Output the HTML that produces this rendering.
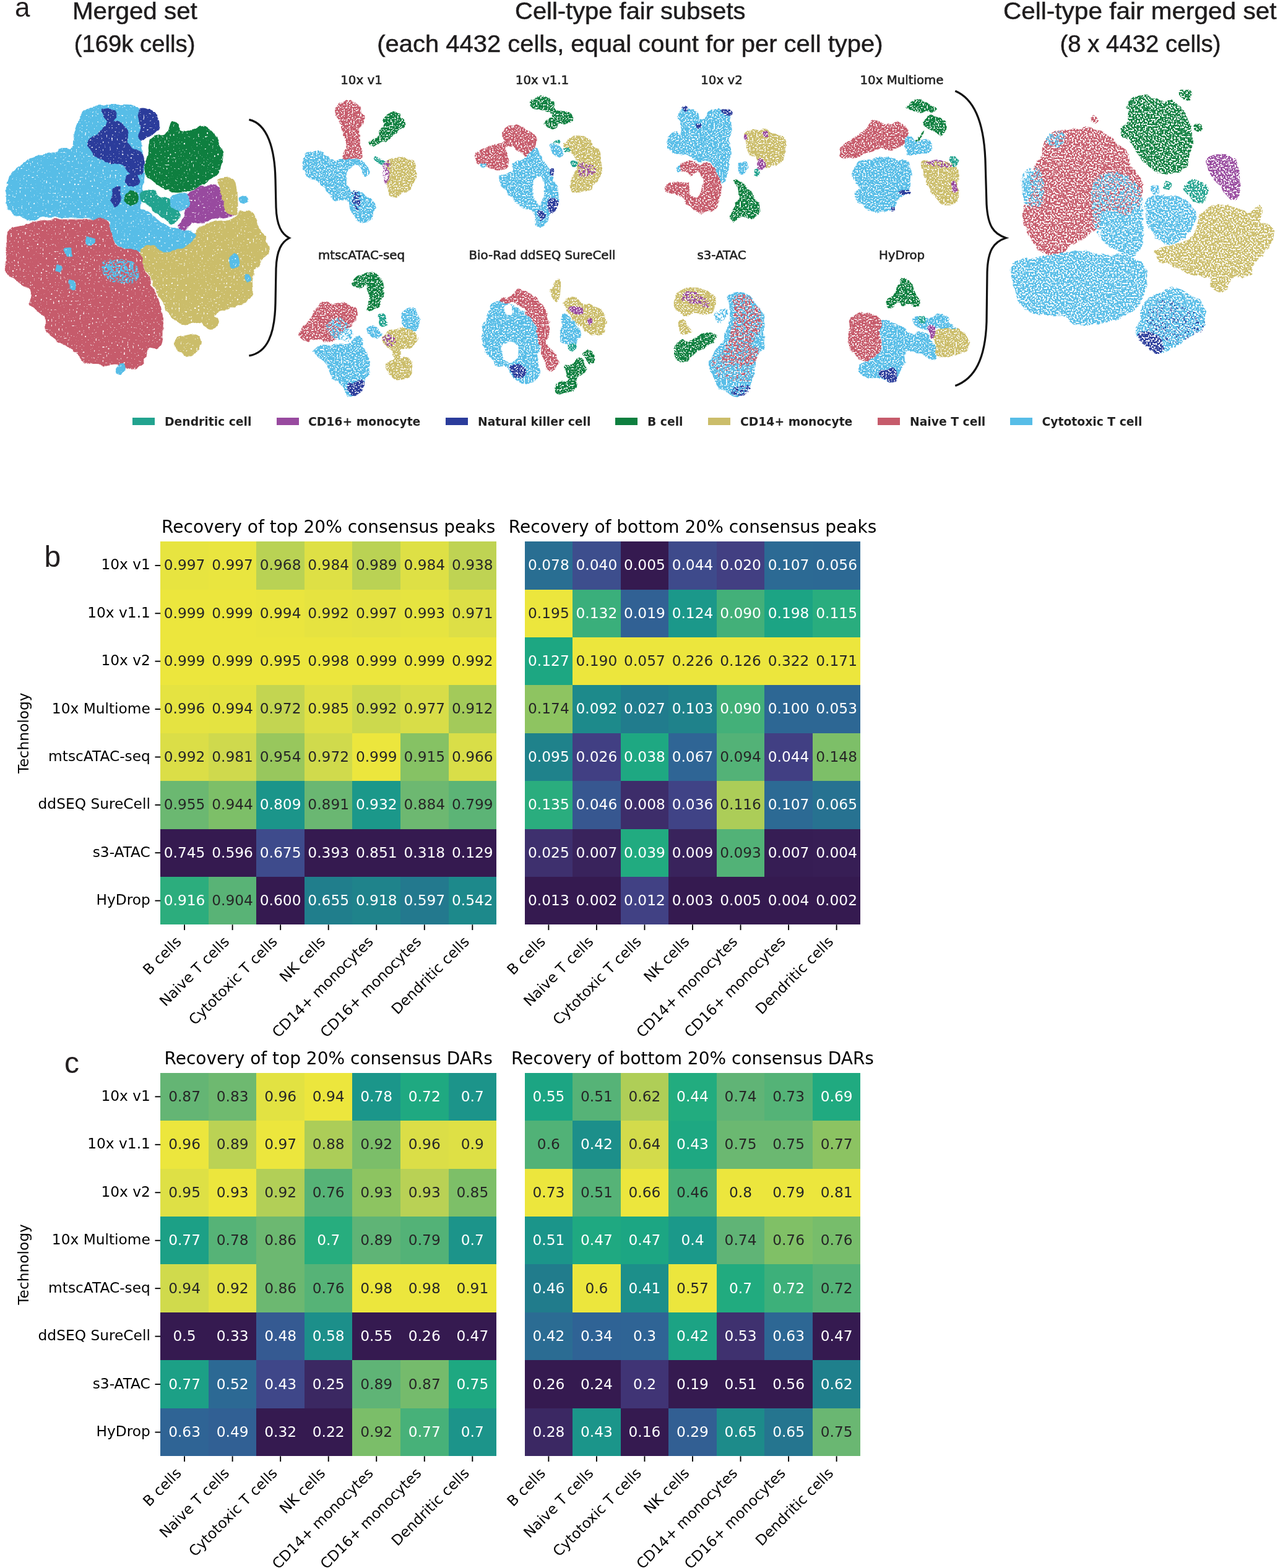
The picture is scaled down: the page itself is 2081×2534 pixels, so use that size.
<!DOCTYPE html>
<html><head><meta charset="utf-8"><style>
html,body{margin:0;padding:0;background:#fff;}
body{width:2081px;height:2534px;overflow:hidden;}
svg{position:absolute;left:0;top:0;} rect{shape-rendering:crispEdges;}
.an{font-family:"DejaVu Sans",sans-serif;font-size:23.3px;text-anchor:middle;}
.xl,.yl{font-family:"DejaVu Sans",sans-serif;font-size:23.3px;text-anchor:end;fill:#000;}
.ax{font-family:"DejaVu Sans",sans-serif;font-size:23.3px;text-anchor:middle;fill:#000;}
.ti{font-family:"DejaVu Sans",sans-serif;font-size:28px;text-anchor:middle;fill:#000;}
.tk{stroke:#000;stroke-width:1.9;}
.pl{font-family:"Liberation Sans",sans-serif;font-size:48px;fill:#231f20;}
.h1{font-family:"Liberation Sans",sans-serif;font-size:39px;fill:#1e1c1d;stroke:#1e1c1d;stroke-width:0.5px;}
.st{font-family:"DejaVu Sans",sans-serif;font-size:19.8px;text-anchor:middle;fill:#222;stroke:#222;stroke-width:0.6px;}
.lg{font-family:"DejaVu Sans",sans-serif;font-weight:bold;font-size:18.75px;fill:#222;}
</style></head><body>
<svg width="2081" height="2534" viewBox="0 0 2081 2534">
<defs>
<filter id="rough" x="-5%" y="-5%" width="110%" height="110%" color-interpolation-filters="sRGB">
<feTurbulence type="fractalNoise" baseFrequency="0.09" numOctaves="2" seed="3" result="n"/>
<feDisplacementMap in="SourceGraphic" in2="n" scale="7" xChannelSelector="R" yChannelSelector="G" result="d"/>
<feTurbulence type="fractalNoise" baseFrequency="0.45" numOctaves="1" seed="11" result="h"/>
<feColorMatrix in="h" type="matrix" values="0 0 0 0 0  0 0 0 0 0  0 0 0 0 0  9 0 0 0 -3.2" result="m"/>
<feComposite in="d" in2="m" operator="in"/>
</filter>
<filter id="speck" x="-5%" y="-5%" width="110%" height="110%" color-interpolation-filters="sRGB">
<feTurbulence type="fractalNoise" baseFrequency="0.09" numOctaves="2" seed="5" result="n"/>
<feDisplacementMap in="SourceGraphic" in2="n" scale="8" xChannelSelector="R" yChannelSelector="G" result="d"/>
<feTurbulence type="fractalNoise" baseFrequency="0.4" numOctaves="1" seed="7" result="h"/>
<feColorMatrix in="h" type="matrix" values="0 0 0 0 0  0 0 0 0 0  0 0 0 0 0  9 0 0 0 -3.6" result="m"/>
<feComposite in="d" in2="m" operator="in"/>
</filter>
<filter id="dense" x="-5%" y="-5%" width="110%" height="110%" color-interpolation-filters="sRGB">
<feTurbulence type="fractalNoise" baseFrequency="0.07" numOctaves="2" seed="3" result="n"/>
<feDisplacementMap in="SourceGraphic" in2="n" scale="8" xChannelSelector="R" yChannelSelector="G" result="d"/>
<feTurbulence type="fractalNoise" baseFrequency="0.35" numOctaves="1" seed="13" result="h"/>
<feColorMatrix in="h" type="matrix" values="0 0 0 0 0  0 0 0 0 0  0 0 0 0 0  9 0 0 0 -2.2" result="m"/>
<feComposite in="d" in2="m" operator="in"/>
</filter>
<filter id="mix" x="-5%" y="-5%" width="110%" height="110%" color-interpolation-filters="sRGB">
<feTurbulence type="fractalNoise" baseFrequency="0.3" numOctaves="1" seed="21" result="h"/>
<feColorMatrix in="h" type="matrix" values="0 0 0 0 0  0 0 0 0 0  0 0 0 0 0  12 0 0 0 -5.3" result="m"/>
<feComposite in="SourceGraphic" in2="m" operator="in"/>
</filter>
<filter id="mix2" x="-5%" y="-5%" width="110%" height="110%" color-interpolation-filters="sRGB">
<feTurbulence type="fractalNoise" baseFrequency="0.35" numOctaves="1" seed="31" result="h"/>
<feColorMatrix in="h" type="matrix" values="0 0 0 0 0  0 0 0 0 0  0 0 0 0 0  14 0 0 0 -7.8" result="m"/>
<feComposite in="SourceGraphic" in2="m" operator="in"/>
</filter>
</defs>
<g filter="url(#dense)">
<path d="M119.2,216.8C123.2,206.2 126.7,185.0 137.8,177.1C148.8,169.1 170.9,169.1 185.5,169.1C200.1,169.1 218.2,166.5 225.2,177.1C232.3,187.7 226.6,217.7 227.9,232.7C229.2,247.8 232.7,254.4 233.2,267.2C233.6,280.0 231.4,297.2 230.5,309.6C229.6,321.9 226.6,336.1 227.9,341.4C229.2,346.7 232.3,337.8 238.5,341.4C244.7,344.9 256.1,357.7 265.0,362.6C273.8,367.4 282.6,367.9 291.5,370.5C300.3,373.2 315.8,374.5 318.0,378.5C320.2,382.4 311.8,390.0 304.7,394.4C297.7,398.8 288.4,403.2 275.6,405.0C262.8,406.7 240.2,405.4 227.9,405.0C215.5,404.5 208.9,405.4 201.4,402.3C193.9,399.2 186.8,393.5 182.8,386.4C178.9,379.4 181.5,365.2 177.5,359.9C173.6,354.6 170.9,356.0 159.0,354.6C147.1,353.3 121.4,352.4 106.0,352.0C90.5,351.5 77.3,351.5 66.2,352.0C55.2,352.4 48.1,356.4 39.7,354.6C31.4,352.9 20.8,348.4 15.9,341.4C11.0,334.3 10.6,321.9 10.6,312.2C10.6,302.5 12.8,290.2 15.9,283.1C19.0,276.0 23.0,274.7 29.1,269.8C35.3,265.0 43.3,257.9 53.0,253.9C62.7,250.0 77.3,248.2 87.4,246.0C97.6,243.8 108.6,245.5 113.9,240.7C119.2,235.8 115.3,227.4 119.2,216.8Z" fill="#57bde7"/>
<path d="M10.6,312.2C11.5,304.3 12.8,290.2 15.9,283.1C19.0,276.0 23.0,274.7 29.1,269.8C35.3,265.0 46.4,256.6 53.0,253.9C59.6,251.3 63.2,255.3 68.9,253.9C74.6,252.6 82.1,248.4 87.4,246.0C92.7,243.6 96.3,240.2 100.7,239.4C105.1,238.5 109.5,239.1 113.9,240.7C118.4,242.2 122.3,246.0 127.2,248.6C132.0,251.3 137.8,253.9 143.1,256.6C148.4,259.2 154.6,261.4 159.0,264.5C163.4,267.6 166.0,271.2 169.6,275.1C173.1,279.1 177.5,284.0 180.2,288.4C182.8,292.8 185.0,297.7 185.5,301.6C185.9,305.6 184.6,308.3 182.8,312.2C181.1,316.2 177.1,320.6 174.9,325.5C172.7,330.3 172.2,337.0 169.6,341.4C166.9,345.8 162.5,350.7 159.0,352.0C155.4,353.3 152.8,349.8 148.4,349.3C144.0,348.9 137.3,348.9 132.5,349.3C127.6,349.8 123.7,351.5 119.2,352.0C114.8,352.4 110.4,352.4 106.0,352.0C101.6,351.5 97.2,349.8 92.7,349.3C88.3,348.9 83.9,348.9 79.5,349.3C75.1,349.8 70.7,350.7 66.2,352.0C61.8,353.3 57.4,356.8 53.0,357.3C48.6,357.7 44.2,356.4 39.7,354.6C35.3,352.9 30.5,348.9 26.5,346.7C22.5,344.5 18.5,344.0 15.9,341.4C13.2,338.7 11.5,335.6 10.6,330.8C9.7,325.9 9.7,320.2 10.6,312.2Z" fill="#57bde7"/>
<path d="M119.2,216.8C121.0,214.6 129.4,219.0 132.5,214.2C135.6,209.3 135.1,194.3 137.8,187.7C140.4,181.1 143.1,177.1 148.4,174.4C153.7,171.8 163.4,172.7 169.6,171.8C175.8,170.9 180.2,169.1 185.5,169.1C190.8,169.1 195.2,170.5 201.4,171.8C207.6,173.1 218.6,171.4 222.6,177.1C226.6,182.8 224.3,197.9 225.2,206.2C226.1,214.6 229.2,222.6 227.9,227.4C226.6,232.3 221.7,233.2 217.3,235.4C212.9,237.6 206.7,237.6 201.4,240.7C196.1,243.8 185.5,249.5 185.5,253.9C185.5,258.4 197.4,261.4 201.4,267.2C205.4,272.9 209.3,282.2 209.3,288.4C209.3,294.6 205.4,300.7 201.4,304.3C197.4,307.8 189.9,312.2 185.5,309.6C181.1,306.9 178.4,295.4 174.9,288.4C171.3,281.3 168.7,272.5 164.3,267.2C159.9,261.9 153.7,261.0 148.4,256.6C143.1,252.2 136.9,245.5 132.5,240.7C128.1,235.8 124.1,231.4 121.9,227.4C119.7,223.5 117.5,219.0 119.2,216.8Z" fill="#57bde7"/>
<path d="M165.9,177.6C168.4,174.6 180.2,174.0 183.9,176.3C187.6,178.6 188.8,188.0 188.1,191.4C187.4,194.8 182.9,196.5 179.7,197.0C176.4,197.5 171.1,197.5 168.8,194.3C166.5,191.1 163.4,180.6 165.9,177.6Z" fill="#2b3c9b"/>
<path d="M142.3,227.4C143.9,222.4 153.2,221.6 159.0,216.3C164.8,211.0 170.8,198.4 177.0,195.6C183.2,192.9 191.3,196.9 196.3,199.9C201.4,202.9 205.6,208.1 207.5,213.7C209.3,219.2 205.2,228.0 207.5,233.0C209.8,238.0 217.1,240.2 221.3,243.9C225.4,247.5 231.0,249.0 232.4,255.0C233.7,261.0 232.2,275.3 229.5,279.9C226.7,284.5 220.8,284.7 215.7,282.8C210.6,281.0 204.5,272.0 199.0,268.8C193.5,265.6 188.1,264.8 182.6,263.5C177.0,262.1 171.4,263.3 165.9,260.6C160.3,257.8 153.1,252.3 149.2,246.8C145.2,241.3 140.7,232.5 142.3,227.4Z" fill="#2b3c9b"/>
<path d="M222.6,177.1C225.7,172.2 238.5,175.3 243.8,177.1C249.1,178.9 252.2,182.8 254.4,187.7C256.6,192.6 258.8,200.9 257.0,206.2C255.3,211.5 248.6,216.0 243.8,219.5C238.9,223.0 231.0,229.6 227.9,227.4C224.8,225.2 226.1,214.6 225.2,206.2C224.3,197.9 219.5,182.0 222.6,177.1Z" fill="#2b3c9b"/>
<path d="M201.4,240.7C203.6,238.0 215.1,238.9 219.9,240.7C224.8,242.5 228.8,246.9 230.5,251.3C232.3,255.7 231.8,262.8 230.5,267.2C229.2,271.6 225.7,276.9 222.6,277.8C219.5,278.7 214.6,276.0 212.0,272.5C209.3,269.0 208.4,261.9 206.7,256.6C204.9,251.3 199.2,243.3 201.4,240.7Z" fill="#2b3c9b"/>
<path d="M204.0,283.1C206.2,280.0 216.4,278.7 219.9,280.4C223.5,282.2 225.7,290.2 225.2,293.7C224.8,297.2 220.4,300.7 217.3,301.6C214.2,302.5 208.9,302.1 206.7,299.0C204.5,295.9 201.8,286.2 204.0,283.1Z" fill="#2b3c9b"/>
<path d="M182.8,304.3C185.0,301.2 191.2,300.7 193.4,304.3C195.6,307.8 197.4,320.2 196.1,325.5C194.8,330.8 188.1,336.5 185.5,336.1C182.8,335.6 180.6,328.1 180.2,322.8C179.7,317.5 180.6,307.4 182.8,304.3Z" fill="#2b3c9b"/>
<path d="M238.5,232.7C240.7,227.4 246.9,222.1 251.7,219.5C256.6,216.8 263.6,220.4 267.6,216.8C271.6,213.3 272.5,201.4 275.6,198.3C278.7,195.2 283.5,196.1 286.2,198.3C288.8,200.5 287.9,209.8 291.5,211.5C295.0,213.3 301.2,210.2 307.4,208.9C313.5,207.6 322.8,203.2 328.6,203.6C334.3,204.0 337.8,207.6 341.8,211.5C345.8,215.5 349.3,221.7 352.4,227.4C355.5,233.2 359.5,239.4 360.4,246.0C361.2,252.6 359.5,261.0 357.7,267.2C355.9,273.4 353.7,278.7 349.8,283.1C345.8,287.5 339.2,290.2 333.9,293.7C328.6,297.2 323.7,301.6 318.0,304.3C312.2,306.9 306.0,308.7 299.4,309.6C292.8,310.5 284.8,310.9 278.2,309.6C271.6,308.3 265.4,304.3 259.7,301.6C253.9,299.0 247.7,296.8 243.8,293.7C239.8,290.6 237.6,287.5 235.8,283.1C234.1,278.7 232.7,272.5 233.2,267.2C233.6,261.9 237.6,257.0 238.5,251.3C239.4,245.5 236.3,238.0 238.5,232.7Z" fill="#0e7f3f"/>
<path d="M201.4,314.9C203.1,312.2 208.4,309.6 212.0,309.6C215.5,309.6 220.8,312.2 222.6,314.9C224.3,317.5 224.3,322.8 222.6,325.5C220.8,328.1 215.5,330.8 212.0,330.8C208.4,330.8 203.1,328.1 201.4,325.5C199.6,322.8 199.6,317.5 201.4,314.9Z" fill="#0e7f3f"/>
<path d="M227.9,309.6C230.5,306.5 239.4,306.0 243.8,306.9C248.2,307.8 250.8,312.7 254.4,314.9C257.9,317.1 260.6,318.4 265.0,320.2C269.4,321.9 276.9,322.8 280.9,325.5C284.8,328.1 287.5,331.7 288.8,336.1C290.1,340.5 290.1,348.0 288.8,352.0C287.5,356.0 284.0,359.0 280.9,359.9C277.8,360.8 274.2,359.0 270.3,357.3C266.3,355.5 260.6,352.0 257.0,349.3C253.5,346.7 252.2,344.5 249.1,341.4C246.0,338.3 242.0,333.4 238.5,330.8C234.9,328.1 229.6,329.0 227.9,325.5C226.1,321.9 225.2,312.7 227.9,309.6Z" fill="#22a38f"/>
<path d="M302.1,314.9C304.7,310.5 312.7,306.9 318.0,304.3C323.3,301.6 328.6,299.9 333.9,299.0C339.2,298.1 345.8,297.2 349.8,299.0C353.7,300.7 355.9,305.2 357.7,309.6C359.5,314.0 358.2,321.5 360.4,325.5C362.6,329.5 367.4,330.8 371.0,333.4C374.5,336.1 381.6,338.7 381.6,341.4C381.6,344.0 375.4,347.6 371.0,349.3C366.5,351.1 360.4,351.1 355.1,352.0C349.8,352.9 344.0,353.3 339.2,354.6C334.3,356.0 330.3,358.6 325.9,359.9C321.5,361.3 317.5,360.4 312.7,362.6C307.8,364.8 300.7,372.3 296.8,373.2C292.8,374.1 288.8,372.3 288.8,367.9C288.8,363.5 294.6,352.9 296.8,346.7C299.0,340.5 301.2,336.1 302.1,330.8C303.0,325.5 299.4,319.3 302.1,314.9Z" fill="#984a9f"/>
<path d="M227.9,405.0C230.1,399.7 237.6,394.4 243.8,394.4C250.0,394.4 257.9,403.6 265.0,405.0C272.0,406.3 280.4,404.1 286.2,402.3C291.9,400.6 295.0,398.3 299.4,394.4C303.8,390.4 307.8,383.8 312.7,378.5C317.5,373.2 322.4,366.1 328.6,362.6C334.7,359.0 342.7,358.6 349.8,357.3C356.8,356.0 364.8,357.3 371.0,354.6C377.1,352.0 381.6,343.6 386.9,341.4C392.2,339.2 398.3,339.6 402.8,341.4C407.2,343.1 410.7,347.6 413.4,352.0C416.0,356.4 416.0,362.6 418.7,367.9C421.3,373.2 426.6,377.6 429.3,383.8C431.9,390.0 435.4,398.8 434.6,405.0C433.7,411.2 427.5,415.6 424.0,420.9C420.4,426.2 416.0,431.5 413.4,436.8C410.7,442.1 408.9,446.5 408.1,452.7C407.2,458.8 409.8,468.1 408.1,473.9C406.3,479.6 401.9,483.6 397.5,487.1C393.0,490.6 386.9,492.9 381.6,495.1C376.3,497.3 370.5,498.6 365.7,500.4C360.8,502.1 356.8,503.0 352.4,505.7C348.0,508.3 344.9,513.6 339.2,516.3C333.4,518.9 325.0,520.2 318.0,521.6C310.9,522.9 303.0,525.1 296.8,524.2C290.6,523.3 285.3,519.3 280.9,516.3C276.5,513.2 272.9,510.1 270.3,505.7C267.6,501.2 267.6,495.1 265.0,489.8C262.3,484.5 257.5,479.2 254.4,473.9C251.3,468.6 249.1,463.3 246.4,458.0C243.8,452.7 241.1,447.4 238.5,442.1C235.8,436.8 232.3,432.4 230.5,426.2C228.8,420.0 225.7,410.3 227.9,405.0Z" fill="#cbbd6a"/>
<path d="M283.5,548.1C285.3,544.1 291.0,544.1 296.8,542.8C302.5,541.4 313.1,538.3 318.0,540.1C322.8,541.9 325.9,548.5 325.9,553.4C325.9,558.2 322.4,565.7 318.0,569.3C313.5,572.8 304.7,575.0 299.4,574.6C294.1,574.1 288.8,571.0 286.2,566.6C283.5,562.2 281.8,552.0 283.5,548.1Z" fill="#cbbd6a"/>
<path d="M352.1,291.0C354.0,288.5 361.3,287.3 365.9,287.1C370.5,286.8 376.7,284.9 379.7,289.7C382.7,294.5 383.5,307.0 383.9,315.9C384.4,324.9 385.6,338.9 382.6,343.5C379.6,348.1 369.9,346.9 365.9,343.5C362.0,340.1 360.9,329.7 359.0,322.8C357.2,315.9 355.9,307.5 354.8,302.2C353.6,296.9 350.3,293.6 352.1,291.0Z" fill="#cbbd6a"/>
<path d="M325.1,512.0C327.3,509.7 335.5,507.6 340.0,508.0C344.4,508.5 350.2,511.3 351.9,514.9C353.6,518.6 352.9,527.2 350.0,530.0C347.2,532.9 338.8,533.2 334.9,531.9C331.1,530.6 328.6,525.4 327.0,522.1C325.3,518.8 323.0,514.4 325.1,512.0Z" fill="#cbbd6a"/>
<path d="M276.9,318.1C280.6,314.2 295.1,310.0 299.9,312.0C304.8,314.0 306.9,325.3 306.0,330.0C305.2,334.7 299.6,339.2 294.9,340.1C290.2,340.9 281.0,338.7 278.0,335.0C275.0,331.4 273.2,321.9 276.9,318.1Z" fill="#57bde7"/>
<path d="M394.0,445.0C395.2,443.0 402.1,442.6 404.1,443.9C406.1,445.2 407.1,450.9 405.9,452.9C404.7,455.0 398.9,457.4 396.9,456.1C394.9,454.8 392.8,447.0 394.0,445.0Z" fill="#57bde7"/>
<path d="M180.2,346.7C184.2,341.4 194.3,337.8 201.4,336.1C208.4,334.3 216.4,335.2 222.6,336.1C228.8,337.0 234.1,338.7 238.5,341.4C242.9,344.0 245.5,348.9 249.1,352.0C252.6,355.1 255.3,357.7 259.7,359.9C264.1,362.1 270.3,363.5 275.6,365.2C280.9,367.0 286.2,369.2 291.5,370.5C296.8,371.8 303.0,371.8 307.4,373.2C311.8,374.5 318.4,374.9 318.0,378.5C317.5,382.0 309.1,390.4 304.7,394.4C300.3,398.3 296.3,400.6 291.5,402.3C286.6,404.1 280.9,404.5 275.6,405.0C270.3,405.4 265.0,406.7 259.7,405.0C254.4,403.2 249.1,394.8 243.8,394.4C238.5,393.9 233.2,401.0 227.9,402.3C222.6,403.6 217.3,402.8 212.0,402.3C206.7,401.9 200.9,402.3 196.1,399.7C191.2,397.0 185.9,391.7 182.8,386.4C179.7,381.1 178.0,374.5 177.5,367.9C177.1,361.3 176.2,352.0 180.2,346.7Z" fill="#57bde7"/>
<path d="M386.9,317.5C388.6,315.8 394.8,314.0 397.5,314.9C400.1,315.8 403.2,320.6 402.8,322.8C402.3,325.0 397.5,327.7 394.8,328.1C392.2,328.6 388.2,327.2 386.9,325.5C385.5,323.7 385.1,319.3 386.9,317.5Z" fill="#57bde7"/>
<path d="M10.6,378.5C12.4,372.3 16.3,370.5 21.2,367.9C26.1,365.2 33.1,364.3 39.7,362.6C46.4,360.8 53.0,358.6 60.9,357.3C68.9,356.0 77.7,355.1 87.4,354.6C97.2,354.2 109.1,354.6 119.2,354.6C129.4,354.6 140.9,355.1 148.4,354.6C155.9,354.2 159.9,351.1 164.3,352.0C168.7,352.9 172.2,356.4 174.9,359.9C177.5,363.5 178.4,367.9 180.2,373.2C181.9,378.5 181.9,386.9 185.5,391.7C189.0,396.6 194.8,400.1 201.4,402.3C208.0,404.5 220.4,401.0 225.2,405.0C230.1,408.9 228.3,419.5 230.5,426.2C232.7,432.8 235.8,438.5 238.5,444.7C241.1,450.9 243.8,457.5 246.4,463.3C249.1,469.0 251.7,472.1 254.4,479.2C257.0,486.2 260.8,498.2 262.3,505.7C263.9,513.2 263.6,516.3 263.6,524.2C263.6,532.2 263.9,546.7 262.3,553.4C260.8,560.0 258.3,562.2 254.4,564.0C250.4,565.7 242.0,560.4 238.5,564.0C234.9,567.5 236.7,579.9 233.2,585.2C229.6,590.5 222.6,594.0 217.3,595.7C212.0,597.5 206.7,597.1 201.4,595.7C196.1,594.4 191.7,588.7 185.5,587.8C179.3,586.9 172.2,590.9 164.3,590.5C156.3,590.0 145.3,588.7 137.8,585.2C130.3,581.6 124.5,573.7 119.2,569.3C113.9,564.8 111.3,562.2 106.0,558.7C100.7,555.1 92.7,552.5 87.4,548.1C82.1,543.6 76.8,538.3 74.2,532.2C71.5,526.0 74.2,516.3 71.5,511.0C68.9,505.7 62.3,503.5 58.3,500.4C54.3,497.3 49.0,497.3 47.7,492.4C46.4,487.6 53.0,477.0 50.3,471.2C47.7,465.5 37.5,461.9 31.8,458.0C26.1,454.0 19.9,451.8 15.9,447.4C11.9,443.0 8.8,438.5 7.9,431.5C7.1,424.4 10.2,413.8 10.6,405.0C11.0,396.1 8.8,384.7 10.6,378.5Z" fill="#c65b6b"/>
<path d="M188.1,590.5C189.9,588.2 196.5,586.5 198.7,587.8C200.9,589.1 202.3,595.3 201.4,598.4C200.5,601.5 195.6,605.9 193.4,606.3C191.2,606.8 189.0,603.7 188.1,601.0C187.2,598.4 186.4,592.7 188.1,590.5Z" fill="#57bde7"/>
<path d="M104.9,402.1C106.3,399.7 114.0,399.2 116.1,401.0C118.1,402.8 118.4,410.6 117.1,412.9C115.8,415.3 110.1,416.9 108.1,415.0C106.1,413.2 103.6,404.4 104.9,402.1Z" fill="#57bde7"/>
<path d="M90.1,429.1C91.3,427.4 96.5,426.5 98.0,428.0C99.5,429.5 100.3,436.4 99.1,438.1C97.9,439.8 92.4,439.6 90.9,438.1C89.4,436.6 88.9,430.8 90.1,429.1Z" fill="#57bde7"/>
<path d="M112.9,454.0C114.1,451.6 119.6,450.9 121.1,452.9C122.6,454.9 123.1,463.6 121.9,465.9C120.7,468.3 115.4,469.0 113.9,467.0C112.4,465.0 111.7,456.3 112.9,454.0Z" fill="#57bde7"/>
<path d="M139.9,384.0C141.6,382.1 149.0,382.2 151.0,384.0C153.1,385.8 153.8,392.9 152.1,394.9C150.4,396.9 143.0,397.8 141.0,396.0C138.9,394.2 138.2,386.0 139.9,384.0Z" fill="#57bde7"/>
<path d="M165.1,425.1C168.1,419.8 180.8,417.5 190.0,418.0C199.1,418.4 214.6,422.4 219.9,428.0C225.3,433.7 225.4,446.9 222.0,451.9C218.7,456.9 208.4,458.3 200.1,458.0C191.7,457.7 177.8,455.5 172.0,450.0C166.1,444.5 162.1,430.5 165.1,425.1Z" fill="#57bde7" filter="url(#mix)"/>
<path d="M371.0,415.6C373.2,413.4 381.6,410.7 384.2,412.9C386.9,415.1 388.2,425.3 386.9,428.8C385.5,432.4 378.9,434.6 376.3,434.1C373.6,433.7 371.8,429.3 371.0,426.2C370.1,423.1 368.8,417.8 371.0,415.6Z" fill="#57bde7"/>
</g>
<g filter="url(#speck)">
<path d="M1811.2,209.7C1812.5,205.2 1819.6,201.7 1821.8,193.7C1824.0,185.8 1820.5,168.5 1824.5,161.9C1828.4,155.2 1839.1,154.8 1845.7,153.9C1852.3,153.0 1859.4,154.8 1864.3,156.6C1869.2,158.3 1870.5,163.6 1874.9,164.5C1879.3,165.4 1885.5,160.5 1890.8,161.9C1896.2,163.2 1902.4,168.1 1906.8,172.5C1911.2,176.9 1914.3,182.2 1917.4,188.4C1920.5,194.6 1923.6,202.6 1925.4,209.7C1927.1,216.7 1928.5,224.7 1928.0,230.9C1927.6,237.1 1924.5,240.6 1922.7,246.8C1920.9,253.0 1920.9,262.8 1917.4,268.1C1913.9,273.4 1906.8,276.5 1901.5,278.7C1896.2,280.9 1890.8,281.4 1885.5,281.4C1880.2,281.4 1874.9,280.9 1869.6,278.7C1864.3,276.5 1859.0,272.9 1853.7,268.1C1848.4,263.2 1842.2,255.7 1837.7,249.5C1833.3,243.3 1831.1,235.8 1827.1,230.9C1823.1,226.0 1816.5,223.8 1813.8,220.3C1811.2,216.7 1809.9,214.1 1811.2,209.7Z" fill="#0e7f3f"/>
<path d="M1906.8,148.6C1907.7,145.5 1914.3,142.8 1917.4,143.3C1920.5,143.7 1924.5,148.1 1925.4,151.2C1926.2,154.3 1924.9,160.1 1922.7,161.9C1920.5,163.6 1914.7,164.1 1912.1,161.9C1909.4,159.7 1905.9,151.7 1906.8,148.6Z" fill="#0e7f3f"/>
<path d="M1930.7,201.7C1932.0,199.9 1936.6,198.2 1938.6,199.0C1940.6,199.9 1942.8,204.8 1942.6,207.0C1942.4,209.2 1939.3,211.9 1937.3,212.3C1935.3,212.8 1931.8,211.4 1930.7,209.7C1929.6,207.9 1929.3,203.5 1930.7,201.7Z" fill="#0e7f3f"/>
<path d="M1657.2,289.3C1660.7,283.1 1670.0,274.3 1673.1,278.7C1676.2,283.1 1677.5,307.0 1675.8,315.9C1674.0,324.7 1666.5,331.8 1662.5,331.8C1658.5,331.8 1652.7,323.0 1651.9,315.9C1651.0,308.8 1653.6,295.5 1657.2,289.3Z" fill="#57bde7"/>
<path d="M1683.7,236.2C1686.8,230.0 1693.5,219.4 1699.7,215.0C1705.9,210.5 1713.8,211.0 1720.9,209.7C1728.0,208.3 1735.1,207.4 1742.1,207.0C1749.2,206.6 1756.3,205.7 1763.4,207.0C1770.5,208.3 1777.6,211.0 1784.6,215.0C1791.7,219.0 1799.7,225.6 1805.9,230.9C1812.1,236.2 1818.3,240.6 1821.8,246.8C1825.3,253.0 1824.5,262.8 1827.1,268.1C1829.8,273.4 1834.6,274.3 1837.7,278.7C1840.8,283.1 1844.4,288.4 1845.7,294.6C1847.0,300.8 1846.6,309.7 1845.7,315.9C1844.8,322.1 1842.6,327.4 1840.4,331.8C1838.2,336.2 1835.5,339.8 1832.4,342.4C1829.3,345.1 1826.2,346.0 1821.8,347.7C1817.4,349.5 1811.2,350.4 1805.9,353.0C1800.6,355.7 1795.3,361.0 1789.9,363.7C1784.6,366.3 1779.3,366.3 1774.0,369.0C1768.7,371.6 1763.4,376.1 1758.1,379.6C1752.8,383.1 1747.5,386.7 1742.1,390.2C1736.8,393.8 1731.5,397.3 1726.2,400.8C1720.9,404.4 1715.6,409.7 1710.3,411.5C1705.0,413.2 1699.7,412.8 1694.3,411.5C1689.0,410.1 1682.8,407.0 1678.4,403.5C1674.0,400.0 1671.3,396.0 1667.8,390.2C1664.3,384.5 1659.8,376.1 1657.2,369.0C1654.5,361.9 1652.3,353.9 1651.9,347.7C1651.4,341.5 1652.3,337.1 1654.5,331.8C1656.7,326.5 1663.4,323.0 1665.1,315.9C1666.9,308.8 1663.8,297.3 1665.1,289.3C1666.5,281.4 1670.5,274.3 1673.1,268.1C1675.8,261.9 1679.3,257.5 1681.1,252.1C1682.8,246.8 1680.6,242.4 1683.7,236.2Z" fill="#c65b6b"/>
<path d="M1760.7,193.7C1760.7,191.5 1766.5,185.8 1768.7,185.8C1770.9,185.8 1774.0,191.5 1774.0,193.7C1774.0,195.9 1770.9,199.0 1768.7,199.0C1766.5,199.0 1760.7,195.9 1760.7,193.7Z" fill="#c65b6b"/>
<path d="M1779.3,342.4C1782.9,335.8 1793.5,341.5 1800.6,342.4C1807.6,343.3 1815.2,349.5 1821.8,347.7C1828.4,346.0 1836.4,330.0 1840.4,331.8C1844.4,333.6 1844.8,349.5 1845.7,358.4C1846.6,367.2 1847.0,376.5 1845.7,384.9C1844.4,393.3 1841.7,403.9 1837.7,408.8C1833.8,413.7 1827.1,414.6 1821.8,414.1C1816.5,413.7 1811.2,409.3 1805.9,406.2C1800.6,403.1 1794.4,399.5 1789.9,395.5C1785.5,391.6 1781.1,391.1 1779.3,382.3C1777.6,373.4 1775.8,349.1 1779.3,342.4Z" fill="#57bde7"/>
<path d="M1633.3,432.7C1635.0,427.0 1639.9,422.1 1646.6,419.4C1653.2,416.8 1664.3,418.1 1673.1,416.8C1682.0,415.4 1690.8,413.2 1699.7,411.5C1708.5,409.7 1717.4,407.0 1726.2,406.2C1735.1,405.3 1743.9,405.3 1752.8,406.2C1761.6,407.0 1770.5,410.6 1779.3,411.5C1788.2,412.4 1797.0,410.6 1805.9,411.5C1814.7,412.4 1825.3,414.1 1832.4,416.8C1839.5,419.4 1844.8,422.1 1848.4,427.4C1851.9,432.7 1853.7,440.7 1853.7,448.6C1853.7,456.6 1851.0,467.2 1848.4,475.2C1845.7,483.2 1842.2,491.1 1837.7,496.4C1833.3,501.7 1827.1,504.0 1821.8,507.1C1816.5,510.2 1813.0,512.4 1805.9,515.0C1798.8,517.7 1788.2,521.2 1779.3,523.0C1770.5,524.8 1760.7,525.6 1752.8,525.6C1744.8,525.6 1736.8,525.2 1731.5,523.0C1726.2,520.8 1726.2,514.6 1720.9,512.4C1715.6,510.2 1707.6,510.6 1699.7,509.7C1691.7,508.8 1681.1,509.3 1673.1,507.1C1665.1,504.8 1657.2,501.7 1651.9,496.4C1646.6,491.1 1643.9,482.3 1641.2,475.2C1638.6,468.1 1637.3,461.0 1635.9,454.0C1634.6,446.9 1631.5,438.5 1633.3,432.7Z" fill="#57bde7"/>
<path d="M1853.7,321.2C1857.7,316.8 1867.8,316.8 1874.9,315.9C1882.0,315.0 1890.0,315.0 1896.2,315.9C1902.4,316.8 1907.2,318.5 1912.1,321.2C1917.0,323.8 1921.8,327.4 1925.4,331.8C1928.9,336.2 1932.9,342.4 1933.3,347.7C1933.8,353.0 1930.7,358.4 1928.0,363.7C1925.4,369.0 1920.9,375.2 1917.4,379.6C1913.9,384.0 1911.2,387.6 1906.8,390.2C1902.4,392.9 1896.2,395.5 1890.8,395.5C1885.5,395.5 1879.3,392.9 1874.9,390.2C1870.5,387.6 1867.8,384.0 1864.3,379.6C1860.8,375.2 1855.9,369.9 1853.7,363.7C1851.5,357.5 1851.0,349.5 1851.0,342.4C1851.0,335.3 1849.7,325.6 1853.7,321.2Z" fill="#57bde7"/>
<path d="M1859.0,302.6C1859.9,299.9 1866.9,298.6 1869.6,299.9C1872.3,301.3 1875.8,307.9 1874.9,310.6C1874.0,313.2 1866.9,317.2 1864.3,315.9C1861.6,314.5 1858.1,305.3 1859.0,302.6Z" fill="#57bde7"/>
<path d="M1914.7,299.9C1916.5,296.8 1921.4,293.3 1925.4,292.0C1929.3,290.6 1934.7,290.2 1938.6,292.0C1942.6,293.7 1947.0,298.6 1949.3,302.6C1951.5,306.6 1952.8,311.9 1951.9,315.9C1951.0,319.9 1947.0,324.7 1944.0,326.5C1940.9,328.3 1936.9,327.8 1933.3,326.5C1929.8,325.2 1925.8,321.2 1922.7,318.5C1919.6,315.9 1916.1,313.7 1914.7,310.6C1913.4,307.5 1913.0,303.0 1914.7,299.9Z" fill="#22a38f"/>
<path d="M1880.2,297.3C1881.3,295.5 1886.0,293.7 1888.2,294.6C1890.4,295.5 1893.5,300.4 1893.5,302.6C1893.5,304.8 1890.2,307.5 1888.2,307.9C1886.2,308.4 1882.9,307.0 1881.6,305.3C1880.2,303.5 1879.1,299.1 1880.2,297.3Z" fill="#22a38f"/>
<path d="M1949.3,257.5C1951.0,254.8 1955.5,253.5 1959.9,252.1C1964.3,250.8 1970.5,249.0 1975.8,249.5C1981.1,249.9 1987.8,251.7 1991.7,254.8C1995.7,257.9 1997.9,263.2 1999.7,268.1C2001.5,272.9 2001.5,278.7 2002.4,284.0C2003.3,289.3 2005.0,294.6 2005.0,299.9C2005.0,305.3 2004.6,311.9 2002.4,315.9C2000.2,319.9 1995.3,323.8 1991.7,323.8C1988.2,323.8 1984.7,319.9 1981.1,315.9C1977.6,311.9 1974.0,304.4 1970.5,299.9C1967.0,295.5 1962.5,292.9 1959.9,289.3C1957.2,285.8 1956.3,282.2 1954.6,278.7C1952.8,275.2 1950.1,271.6 1949.3,268.1C1948.4,264.5 1947.5,260.1 1949.3,257.5Z" fill="#984a9f"/>
<path d="M1866.9,406.2C1868.3,402.2 1874.9,400.0 1880.2,398.2C1885.5,396.4 1893.5,396.9 1898.8,395.5C1904.1,394.2 1907.2,392.9 1912.1,390.2C1917.0,387.6 1924.0,384.9 1928.0,379.6C1932.0,374.3 1933.3,364.6 1936.0,358.4C1938.6,352.2 1940.0,346.9 1944.0,342.4C1947.9,338.0 1953.7,333.6 1959.9,331.8C1966.1,330.0 1974.0,330.9 1981.1,331.8C1988.2,332.7 1996.2,335.3 2002.4,337.1C2008.6,338.9 2013.0,343.3 2018.3,342.4C2023.6,341.5 2030.7,331.8 2034.2,331.8C2037.8,331.8 2039.1,338.0 2039.5,342.4C2040.0,346.9 2035.1,354.8 2036.9,358.4C2038.7,361.9 2046.6,361.0 2050.2,363.7C2053.7,366.3 2057.2,369.9 2058.1,374.3C2059.0,378.7 2057.7,384.9 2055.5,390.2C2053.3,395.5 2048.4,401.7 2044.9,406.2C2041.3,410.6 2037.8,412.8 2034.2,416.8C2030.7,420.8 2025.4,425.6 2023.6,430.1C2021.8,434.5 2026.3,440.2 2023.6,443.3C2021.0,446.4 2013.0,447.8 2007.7,448.6C2002.4,449.5 1995.3,446.9 1991.7,448.6C1988.2,450.4 1988.2,455.7 1986.4,459.3C1984.7,462.8 1984.2,467.7 1981.1,469.9C1978.0,472.1 1971.8,473.4 1967.8,472.5C1963.9,471.7 1959.4,468.6 1957.2,464.6C1955.0,460.6 1957.7,451.7 1954.6,448.6C1951.5,445.5 1944.0,446.9 1938.6,446.0C1933.3,445.1 1928.0,445.1 1922.7,443.3C1917.4,441.6 1913.0,438.0 1906.8,435.4C1900.6,432.7 1891.3,429.6 1885.5,427.4C1879.8,425.2 1875.4,425.6 1872.3,422.1C1869.2,418.5 1865.6,410.1 1866.9,406.2Z" fill="#cbbd6a"/>
<path d="M1845.7,496.4C1848.8,490.2 1853.2,484.9 1859.0,480.5C1864.7,476.1 1874.0,472.5 1880.2,469.9C1886.4,467.2 1890.8,464.6 1896.2,464.6C1901.5,464.6 1906.8,467.2 1912.1,469.9C1917.4,472.5 1922.7,477.0 1928.0,480.5C1933.3,484.0 1940.4,486.7 1944.0,491.1C1947.5,495.6 1948.8,501.7 1949.3,507.1C1949.7,512.4 1948.8,518.1 1946.6,523.0C1944.4,527.9 1940.0,532.7 1936.0,536.3C1932.0,539.8 1927.6,541.1 1922.7,544.2C1917.8,547.3 1912.1,551.3 1906.8,554.9C1901.5,558.4 1896.2,562.8 1890.8,565.5C1885.5,568.1 1880.2,571.7 1874.9,570.8C1869.6,569.9 1864.3,563.7 1859.0,560.2C1853.7,556.6 1847.0,553.5 1843.0,549.5C1839.1,545.6 1835.5,541.6 1835.1,536.3C1834.6,531.0 1838.6,524.3 1840.4,517.7C1842.2,511.0 1842.6,502.6 1845.7,496.4Z" fill="#57bde7"/>
<path d="M1837.7,538.9C1839.1,535.4 1848.4,532.7 1853.7,533.6C1859.0,534.5 1865.2,539.8 1869.6,544.2C1874.0,548.7 1879.3,555.7 1880.2,560.2C1881.1,564.6 1878.5,569.9 1874.9,570.8C1871.4,571.7 1863.8,568.1 1859.0,565.5C1854.1,562.8 1849.2,559.3 1845.7,554.9C1842.2,550.4 1836.4,542.5 1837.7,538.9Z" fill="#2b3c9b"/>
<path d="M1859.0,496.4C1864.3,488.9 1876.7,483.2 1885.5,483.2C1894.4,483.2 1903.2,492.5 1912.1,496.4C1920.9,500.4 1932.9,501.7 1938.6,507.1C1944.4,512.4 1948.8,522.1 1946.6,528.3C1944.4,534.5 1933.3,539.8 1925.4,544.2C1917.4,548.7 1907.7,554.0 1898.8,554.9C1890.0,555.7 1879.8,554.0 1872.3,549.5C1864.7,545.1 1855.9,537.2 1853.7,528.3C1851.5,519.4 1853.7,504.0 1859.0,496.4Z" fill="#2b3c9b" filter="url(#mix2)"/>
<path d="M1768.7,289.3C1775.8,280.5 1795.3,277.8 1805.9,278.7C1816.5,279.6 1825.8,288.4 1832.4,294.6C1839.1,300.8 1843.5,299.1 1845.7,315.9C1847.9,332.7 1849.7,379.6 1845.7,395.5C1841.7,411.5 1831.1,411.5 1821.8,411.5C1812.5,411.5 1798.8,402.6 1789.9,395.5C1781.1,388.5 1773.1,379.6 1768.7,369.0C1764.3,358.4 1763.4,345.1 1763.4,331.8C1763.4,318.5 1761.6,298.2 1768.7,289.3Z" fill="#57bde7" filter="url(#mix)"/>
<path d="M1654.5,278.7C1658.9,272.5 1673.1,269.4 1678.4,273.4C1683.7,277.4 1685.9,292.9 1686.4,302.6C1686.8,312.3 1685.5,326.9 1681.1,331.8C1676.6,336.7 1664.7,335.3 1659.8,331.8C1655.0,328.3 1652.7,319.4 1651.9,310.6C1651.0,301.7 1650.1,284.9 1654.5,278.7Z" fill="#57bde7" filter="url(#mix)"/>
<path d="M1694.3,217.6C1698.3,214.5 1711.2,210.1 1715.6,212.3C1720.0,214.5 1722.7,226.5 1720.9,230.9C1719.1,235.3 1709.8,238.9 1705.0,238.9C1700.1,238.9 1693.5,234.4 1691.7,230.9C1689.9,227.4 1690.4,220.7 1694.3,217.6Z" fill="#57bde7" filter="url(#mix)"/>
</g>
<g filter="url(#rough)">
<path d="M541.0,175.3C542.2,172.4 545.6,168.6 548.6,166.5C551.5,164.4 554.9,163.1 558.7,162.7C562.5,162.3 567.8,162.5 571.4,163.9C575.0,165.4 578.1,168.6 580.3,171.5C582.4,174.5 582.4,178.9 584.1,181.7C585.7,184.4 590.0,185.3 590.4,188.0C590.8,190.8 588.1,195.2 586.6,198.2C585.1,201.1 582.6,202.8 581.5,205.8C580.5,208.7 580.0,212.5 580.3,215.9C580.5,219.3 582.2,222.2 582.8,226.0C583.4,229.8 583.4,234.5 584.1,238.7C584.7,242.9 587.0,248.2 586.6,251.4C586.2,254.5 584.1,256.5 581.5,257.7C579.0,259.0 574.8,258.6 571.4,259.0C568.0,259.4 564.2,260.5 561.2,260.3C558.3,260.0 554.7,260.0 553.6,257.7C552.6,255.4 554.1,249.9 554.9,246.3C555.8,242.7 558.5,239.6 558.7,236.2C558.9,232.8 556.8,229.4 556.2,226.0C555.5,222.7 555.8,219.7 554.9,215.9C554.1,212.1 552.6,207.2 551.1,203.2C549.6,199.2 547.7,195.0 546.0,191.8C544.3,188.7 541.8,187.0 541.0,184.2C540.1,181.5 539.7,178.3 541.0,175.3Z" fill="#c65b6b"/>
<path d="M595.5,229.8C595.9,228.1 599.3,227.5 601.8,226.0C604.3,224.6 608.8,223.5 610.7,221.0C612.6,218.4 611.7,214.2 613.2,210.8C614.7,207.4 618.3,204.1 619.5,200.7C620.8,197.3 619.5,193.3 620.8,190.6C622.1,187.8 624.4,185.9 627.1,184.2C629.9,182.5 634.3,180.6 637.3,180.4C640.2,180.2 643.2,181.3 644.9,182.9C646.6,184.6 645.7,188.4 647.4,190.6C649.1,192.7 654.2,193.3 655.0,195.6C655.9,197.9 654.2,202.2 652.5,204.5C650.8,206.8 647.4,207.4 644.9,209.6C642.3,211.7 639.8,214.8 637.3,217.2C634.7,219.5 632.2,221.6 629.7,223.5C627.1,225.4 625.0,227.1 622.1,228.6C619.1,230.0 614.9,230.9 611.9,232.4C609.0,233.9 606.4,236.8 604.3,237.4C602.2,238.1 600.7,237.4 599.3,236.2C597.8,234.9 595.0,231.5 595.5,229.8Z" fill="#0e7f3f"/>
<path d="M489.0,261.5C489.9,257.3 492.2,251.8 495.3,248.8C498.5,245.9 503.8,244.2 508.0,243.8C512.2,243.4 516.9,244.6 520.7,246.3C524.5,248.0 527.4,251.8 530.8,253.9C534.2,256.0 537.6,258.6 541.0,259.0C544.3,259.4 548.1,256.5 551.1,256.5C554.1,256.5 556.2,259.0 558.7,259.0C561.2,259.0 563.8,256.9 566.3,256.5C568.8,256.0 571.4,256.0 573.9,256.5C576.5,256.9 579.0,257.7 581.5,259.0C584.1,260.3 587.0,261.9 589.1,264.1C591.2,266.2 592.9,269.1 594.2,271.7C595.5,274.2 597.1,276.7 596.7,279.3C596.3,281.8 593.3,286.4 591.7,286.9C590.0,287.3 588.3,284.3 586.6,281.8C584.9,279.3 583.6,274.2 581.5,271.7C579.4,269.1 576.5,266.6 573.9,266.6C571.4,266.6 568.4,269.5 566.3,271.7C564.2,273.8 562.5,276.3 561.2,279.3C560.0,282.2 558.7,285.6 558.7,289.4C558.7,293.2 560.8,297.8 561.2,302.1C561.7,306.3 562.1,311.4 561.2,314.7C560.4,318.1 558.7,320.7 556.2,322.3C553.6,324.0 549.4,325.3 546.0,324.9C542.7,324.5 538.4,322.3 535.9,319.8C533.4,317.3 533.4,312.6 530.8,309.7C528.3,306.7 523.6,304.6 520.7,302.1C517.7,299.5 516.0,296.6 513.1,294.5C510.1,292.4 505.9,291.1 502.9,289.4C500.0,287.7 497.5,286.9 495.3,284.3C493.2,281.8 491.3,278.0 490.3,274.2C489.2,270.4 488.2,265.7 489.0,261.5Z" fill="#57bde7"/>
<path d="M563.8,314.7C565.0,311.6 568.4,309.3 571.4,308.4C574.3,307.6 578.1,308.2 581.5,309.7C584.9,311.2 588.3,315.2 591.7,317.3C595.0,319.4 599.3,319.8 601.8,322.3C604.3,324.9 606.4,329.1 606.9,332.5C607.3,335.9 605.2,339.2 604.3,342.6C603.5,346.0 603.5,350.2 601.8,352.8C600.1,355.3 597.1,356.6 594.2,357.8C591.2,359.1 587.0,360.8 584.1,360.4C581.1,359.9 578.6,357.4 576.5,355.3C574.3,353.2 573.1,350.7 571.4,347.7C569.7,344.7 567.6,340.9 566.3,337.6C565.0,334.2 564.2,331.2 563.8,327.4C563.4,323.6 562.5,317.9 563.8,314.7Z" fill="#57bde7"/>
<path d="M541.0,302.1C542.7,299.1 551.9,296.2 556.2,297.0C560.4,297.8 563.8,303.8 566.3,307.1C568.8,310.5 571.4,314.3 571.4,317.3C571.4,320.2 568.8,324.0 566.3,324.9C563.8,325.7 559.6,324.0 556.2,322.3C552.8,320.7 548.6,318.1 546.0,314.7C543.5,311.4 539.3,305.0 541.0,302.1Z" fill="#57bde7"/>
<path d="M568.8,309.7C569.9,306.9 574.3,307.1 576.5,308.4C578.6,309.7 580.7,313.7 581.5,317.3C582.4,320.9 581.9,326.2 581.5,330.0C581.1,333.8 580.3,338.8 579.0,340.1C577.7,341.4 575.4,340.1 573.9,337.6C572.4,335.0 571.0,329.5 570.1,324.9C569.3,320.2 567.8,312.4 568.8,309.7Z" fill="#2b3c9b" filter="url(#mix)"/>
<path d="M624.6,261.5C626.3,258.8 630.9,256.5 634.7,255.2C638.5,253.9 643.2,253.7 647.4,253.9C651.6,254.1 656.5,255.2 660.1,256.5C663.7,257.7 666.8,259.0 669.0,261.5C671.1,264.1 672.3,267.9 672.8,271.7C673.2,275.5 672.3,280.1 671.5,284.3C670.7,288.6 669.6,293.2 667.7,297.0C665.8,300.8 663.0,304.2 660.1,307.1C657.1,310.1 653.3,312.8 650.0,314.7C646.6,316.6 643.2,318.5 639.8,318.5C636.4,318.5 632.0,317.1 629.7,314.7C627.4,312.4 626.5,308.4 625.9,304.6C625.2,300.8 625.5,296.2 625.9,291.9C626.3,287.7 628.6,282.6 628.4,279.3C628.2,275.9 625.2,274.6 624.6,271.7C624.0,268.7 622.9,264.3 624.6,261.5Z" fill="#cbbd6a"/>
<path d="M619.5,264.1C621.4,261.9 627.6,258.6 629.7,259.0C631.8,259.4 632.4,263.6 632.2,266.6C632.0,269.5 629.0,272.9 628.4,276.7C627.8,280.5 628.8,286.0 628.4,289.4C628.0,292.8 627.1,296.6 625.9,297.0C624.6,297.4 622.1,294.5 620.8,291.9C619.5,289.4 618.7,285.2 618.3,281.8C617.8,278.4 618.1,274.6 618.3,271.7C618.5,268.7 617.6,266.2 619.5,264.1Z" fill="#984a9f" filter="url(#mix)"/>
<path d="M604.3,253.9C604.3,252.6 606.9,253.1 609.4,253.9C611.9,254.8 617.4,257.3 619.5,259.0C621.6,260.7 622.5,262.8 622.1,264.1C621.6,265.3 619.1,267.0 617.0,266.6C614.9,266.2 611.5,263.6 609.4,261.5C607.3,259.4 604.3,255.2 604.3,253.9Z" fill="#22a38f"/>
</g>
<g filter="url(#rough)">
<path d="M855.1,167.7C855.3,165.1 857.8,161.4 860.6,159.4C863.4,157.3 868.0,155.7 871.7,155.2C875.4,154.7 879.0,155.2 882.7,156.6C886.4,158.0 891.7,160.3 893.8,163.5C895.9,166.7 893.8,173.4 895.2,175.9C896.6,178.5 898.6,178.0 902.1,178.7C905.5,179.4 912.2,178.9 915.9,180.1C919.6,181.2 922.8,183.1 924.2,185.6C925.6,188.2 925.6,193.0 924.2,195.3C922.8,197.6 919.6,198.5 915.9,199.4C912.2,200.4 905.3,199.7 902.1,200.8C898.9,202.0 899.3,205.2 896.6,206.4C893.8,207.5 888.5,208.7 885.5,207.7C882.5,206.8 879.0,202.9 878.6,200.8C878.1,198.8 880.7,197.1 882.7,195.3C884.8,193.5 890.1,192.1 891.0,189.8C891.9,187.5 890.1,183.3 888.3,181.5C886.4,179.6 883.2,179.4 880.0,178.7C876.7,178.0 872.4,178.0 868.9,177.3C865.4,176.6 861.5,176.2 859.2,174.6C856.9,173.0 854.8,170.2 855.1,167.7Z" fill="#0e7f3f"/>
<path d="M768.0,256.1C768.7,252.4 771.4,245.5 774.9,242.3C778.3,239.1 783.6,238.6 788.7,236.8C793.8,234.9 800.9,232.6 805.3,231.2C809.7,229.9 814.1,230.8 815.0,228.5C815.9,226.2 810.6,221.1 810.8,217.4C811.1,213.7 813.6,208.9 816.4,206.4C819.1,203.8 823.3,202.7 827.4,202.2C831.6,201.8 836.6,202.0 841.2,203.6C845.9,205.2 850.9,209.1 855.1,211.9C859.2,214.7 864.3,217.0 866.1,220.2C868.0,223.4 866.6,227.6 866.1,231.2C865.7,234.9 864.3,239.1 863.4,242.3C862.4,245.5 862.9,248.8 860.6,250.6C858.3,252.4 853.2,254.3 849.5,253.4C845.9,252.4 841.7,247.4 838.5,245.1C835.3,242.8 832.5,240.9 830.2,239.5C827.9,238.2 827.0,236.8 824.7,236.8C822.4,236.8 817.3,237.2 816.4,239.5C815.4,241.8 818.2,246.5 819.1,250.6C820.0,254.8 822.8,260.7 821.9,264.4C821.0,268.1 816.8,270.9 813.6,272.7C810.4,274.6 806.2,275.7 802.5,275.5C798.9,275.3 794.9,272.7 791.5,271.3C788.0,270.0 785.3,268.3 781.8,267.2C778.3,266.0 773.0,266.3 770.7,264.4C768.4,262.6 767.3,259.8 768.0,256.1Z" fill="#c65b6b"/>
<path d="M827.4,264.4C828.8,262.1 832.5,260.3 835.7,258.9C838.9,257.5 843.1,258.4 846.8,256.1C850.5,253.8 854.6,247.8 857.8,245.1C861.1,242.3 863.8,239.1 866.1,239.5C868.4,240.0 869.8,244.6 871.7,247.8C873.5,251.1 875.4,255.7 877.2,258.9C879.0,262.1 880.9,264.4 882.7,267.2C884.6,270.0 886.4,272.3 888.3,275.5C890.1,278.7 891.9,282.9 893.8,286.6C895.6,290.2 897.9,293.5 899.3,297.6C900.7,301.8 901.6,306.4 902.1,311.4C902.5,316.5 903.0,323.4 902.1,328.0C901.2,332.6 898.9,335.9 896.6,339.1C894.2,342.3 890.6,343.7 888.3,347.4C886.0,351.1 885.0,358.0 882.7,361.2C880.4,364.4 877.2,366.3 874.4,366.7C871.7,367.2 868.0,367.2 866.1,364.0C864.3,360.7 864.8,351.5 863.4,347.4C862.0,343.2 860.6,340.9 857.8,339.1C855.1,337.2 850.5,337.7 846.8,336.3C843.1,334.9 838.9,333.6 835.7,330.8C832.5,328.0 830.6,323.4 827.4,319.7C824.2,316.0 819.6,312.4 816.4,308.7C813.1,305.0 809.9,301.3 808.1,297.6C806.2,293.9 804.4,288.9 805.3,286.6C806.2,284.2 810.4,285.2 813.6,283.8C816.8,282.4 822.4,280.1 824.7,278.3C827.0,276.4 827.0,275.0 827.4,272.7C827.9,270.4 826.0,266.7 827.4,264.4Z" fill="#57bde7"/>
<path d="M863.4,289.3C865.7,286.6 871.7,284.2 874.4,286.6C877.2,288.9 879.5,297.6 880.0,303.1C880.4,308.7 878.6,315.1 877.2,319.7C875.8,324.3 874.0,330.8 871.7,330.8C869.4,330.8 865.2,324.3 863.4,319.7C861.5,315.1 860.6,308.2 860.6,303.1C860.6,298.1 861.1,292.1 863.4,289.3Z" fill="#ffffff"/>
<path d="M888.3,234.0C888.7,232.2 891.0,230.8 893.8,231.2C896.6,231.7 902.1,234.0 904.8,236.8C907.6,239.5 910.4,245.1 910.4,247.8C910.4,250.6 907.2,252.9 904.8,253.4C902.5,253.8 898.9,252.4 896.6,250.6C894.2,248.8 892.4,245.1 891.0,242.3C889.6,239.5 887.8,235.9 888.3,234.0Z" fill="#57bde7"/>
<path d="M774.9,264.4C776.3,263.5 784.6,263.5 785.9,264.4C787.3,265.4 784.6,269.0 783.2,270.0C781.8,270.9 779.0,270.9 777.7,270.0C776.3,269.0 773.5,265.4 774.9,264.4Z" fill="#57bde7"/>
<path d="M888.3,319.7C890.6,317.9 897.0,320.7 899.3,322.5C901.6,324.3 902.5,327.6 902.1,330.8C901.6,334.0 898.9,339.5 896.6,341.9C894.2,344.2 890.1,346.0 888.3,344.6C886.4,343.2 885.5,337.7 885.5,333.6C885.5,329.4 886.0,321.6 888.3,319.7Z" fill="#2b3c9b"/>
<path d="M868.9,341.9C870.3,340.2 875.4,339.1 877.2,340.5C879.0,341.9 880.4,347.6 880.0,350.1C879.5,352.7 876.3,355.7 874.4,355.7C872.6,355.7 869.8,352.5 868.9,350.1C868.0,347.8 867.5,343.5 868.9,341.9Z" fill="#2b3c9b"/>
<path d="M888.3,272.7C888.9,271.3 892.9,270.9 893.8,272.7C894.7,274.6 894.5,282.4 893.8,283.8C893.1,285.2 890.6,282.9 889.6,281.0C888.7,279.2 887.6,274.1 888.3,272.7Z" fill="#2b3c9b"/>
<path d="M910.4,231.2C911.8,228.0 917.7,225.0 921.4,223.0C925.1,220.9 928.8,219.3 932.5,218.8C936.2,218.3 940.1,218.6 943.6,220.2C947.0,221.8 950.5,225.7 953.2,228.5C956.0,231.2 957.6,234.5 960.1,236.8C962.7,239.1 966.6,239.5 968.4,242.3C970.3,245.1 970.7,249.2 971.2,253.4C971.7,257.5 971.0,263.0 971.2,267.2C971.4,271.3 973.1,274.6 972.6,278.3C972.1,281.9 970.5,286.1 968.4,289.3C966.4,292.5 962.5,294.8 960.1,297.6C957.8,300.4 957.4,304.1 954.6,305.9C951.9,307.7 947.2,307.7 943.6,308.7C939.9,309.6 935.7,311.4 932.5,311.4C929.3,311.4 926.0,311.0 924.2,308.7C922.4,306.4 921.4,301.3 921.4,297.6C921.4,293.9 922.8,290.2 924.2,286.6C925.6,282.9 928.3,279.2 929.7,275.5C931.1,271.8 932.5,268.1 932.5,264.4C932.5,260.7 931.6,256.1 929.7,253.4C927.9,250.6 924.2,249.7 921.4,247.8C918.7,246.0 915.0,245.1 913.1,242.3C911.3,239.5 909.0,234.5 910.4,231.2Z" fill="#cbbd6a"/>
<path d="M935.3,267.2C937.1,264.4 942.2,264.2 946.3,264.4C950.5,264.7 957.4,266.3 960.1,268.6C962.9,270.9 963.8,275.7 962.9,278.3C962.0,280.8 957.8,282.4 954.6,283.8C951.4,285.2 946.8,287.0 943.6,286.6C940.3,286.1 936.6,284.2 935.3,281.0C933.9,277.8 933.4,270.0 935.3,267.2Z" fill="#984a9f" filter="url(#mix)"/>
<path d="M910.4,239.5C911.3,238.4 916.8,237.5 918.7,238.2C920.5,238.9 922.4,242.5 921.4,243.7C920.5,244.8 915.0,245.8 913.1,245.1C911.3,244.4 909.5,240.7 910.4,239.5Z" fill="#22a38f"/>
<path d="M921.4,260.3C922.1,258.7 927.9,257.7 929.7,258.9C931.6,260.1 933.2,265.6 932.5,267.2C931.8,268.8 927.4,269.7 925.6,268.6C923.7,267.4 920.7,261.9 921.4,260.3Z" fill="#22a38f"/>
<path d="M896.6,227.1C897.7,226.2 902.3,225.0 903.5,225.7C904.6,226.4 904.6,230.3 903.5,231.2C902.3,232.2 897.7,231.9 896.6,231.2C895.4,230.6 895.4,228.0 896.6,227.1Z" fill="#22a38f"/>
</g>
<g filter="url(#rough)">
<path d="M1078.0,234.0C1078.0,229.9 1079.6,221.1 1082.1,217.4C1084.7,213.7 1090.0,211.9 1093.2,211.9C1096.4,211.9 1100.6,219.7 1101.5,217.4C1102.4,215.1 1099.6,203.6 1098.7,198.1C1097.8,192.5 1095.0,188.2 1095.9,184.2C1096.9,180.3 1100.6,175.9 1104.2,174.6C1107.9,173.2 1114.4,174.8 1118.1,175.9C1121.8,177.1 1124.1,178.7 1126.4,181.5C1128.7,184.2 1129.6,191.6 1131.9,192.5C1134.2,193.5 1137.9,189.3 1140.2,187.0C1142.5,184.7 1142.5,180.6 1145.7,178.7C1148.9,176.9 1155.4,175.9 1159.5,175.9C1163.7,175.9 1166.9,177.8 1170.6,178.7C1174.3,179.6 1180.1,178.7 1181.7,181.5C1183.3,184.2 1180.3,190.2 1180.3,195.3C1180.3,200.4 1181.9,207.3 1181.7,211.9C1181.4,216.5 1179.1,218.8 1178.9,223.0C1178.7,227.1 1179.8,232.2 1180.3,236.8C1180.7,241.4 1181.9,246.0 1181.7,250.6C1181.4,255.2 1179.8,259.8 1178.9,264.4C1178.0,269.0 1177.1,273.6 1176.1,278.3C1175.2,282.9 1175.2,289.3 1173.4,292.1C1171.5,294.8 1167.4,296.2 1165.1,294.8C1162.8,293.5 1161.4,287.5 1159.5,283.8C1157.7,280.1 1156.3,276.4 1154.0,272.7C1151.7,269.0 1148.5,264.0 1145.7,261.7C1143.0,259.4 1139.7,258.9 1137.4,258.9C1135.1,258.9 1134.2,261.7 1131.9,261.7C1129.6,261.7 1126.4,260.3 1123.6,258.9C1120.8,257.5 1118.5,254.8 1115.3,253.4C1112.1,252.0 1107.9,251.5 1104.2,250.6C1100.6,249.7 1096.9,249.2 1093.2,247.8C1089.5,246.5 1084.7,244.6 1082.1,242.3C1079.6,240.0 1078.0,238.2 1078.0,234.0Z" fill="#57bde7"/>
<path d="M1091.8,270.0C1092.5,268.1 1097.3,266.3 1098.7,267.2C1100.1,268.1 1100.8,273.6 1100.1,275.5C1099.4,277.3 1095.9,279.2 1094.6,278.3C1093.2,277.3 1091.1,271.8 1091.8,270.0Z" fill="#57bde7"/>
<path d="M1192.7,264.4C1194.3,261.7 1201.0,260.7 1203.8,261.7C1206.6,262.6 1209.3,267.2 1209.3,270.0C1209.3,272.7 1205.6,276.0 1203.8,278.3C1201.9,280.6 1199.9,283.8 1198.3,283.8C1196.6,283.8 1195.0,281.5 1194.1,278.3C1193.2,275.0 1191.1,267.2 1192.7,264.4Z" fill="#57bde7"/>
<path d="M1101.5,173.2C1102.4,171.8 1108.2,170.9 1109.8,171.8C1111.4,172.7 1112.1,177.3 1111.2,178.7C1110.2,180.1 1105.9,181.0 1104.2,180.1C1102.6,179.2 1100.6,174.6 1101.5,173.2Z" fill="#2b3c9b"/>
<path d="M1165.1,177.3C1166.7,176.4 1173.1,175.3 1176.1,175.9C1179.1,176.6 1182.1,179.6 1183.0,181.5C1184.0,183.3 1183.7,186.3 1181.7,187.0C1179.6,187.7 1173.1,186.5 1170.6,185.6C1168.1,184.7 1167.4,182.9 1166.5,181.5C1165.5,180.1 1163.5,178.3 1165.1,177.3Z" fill="#2b3c9b"/>
<path d="M1123.6,200.8C1124.7,199.4 1130.5,198.3 1131.9,199.4C1133.3,200.6 1133.0,206.4 1131.9,207.7C1130.7,209.1 1126.4,208.9 1125.0,207.7C1123.6,206.6 1122.4,202.2 1123.6,200.8Z" fill="#2b3c9b"/>
<path d="M1075.2,303.1C1075.7,300.8 1076.8,297.6 1079.4,296.2C1081.9,294.8 1086.7,294.8 1090.4,294.8C1094.1,294.8 1097.8,296.2 1101.5,296.2C1105.2,296.2 1109.8,296.5 1112.5,294.8C1115.3,293.2 1118.5,289.3 1118.1,286.6C1117.6,283.8 1112.5,279.6 1109.8,278.3C1107.0,276.9 1103.3,280.1 1101.5,278.3C1099.6,276.4 1097.8,270.0 1098.7,267.2C1099.6,264.4 1103.8,263.0 1107.0,261.7C1110.2,260.3 1114.8,258.4 1118.1,258.9C1121.3,259.4 1124.1,263.0 1126.4,264.4C1128.7,265.8 1130.0,267.7 1131.9,267.2C1133.7,266.7 1135.1,262.1 1137.4,261.7C1139.7,261.2 1143.0,262.6 1145.7,264.4C1148.5,266.3 1151.7,269.5 1154.0,272.7C1156.3,276.0 1157.7,280.1 1159.5,283.8C1161.4,287.5 1164.2,290.2 1165.1,294.8C1166.0,299.5 1165.5,306.8 1165.1,311.4C1164.6,316.0 1163.2,318.8 1162.3,322.5C1161.4,326.2 1160.9,330.8 1159.5,333.6C1158.2,336.3 1156.8,337.7 1154.0,339.1C1151.2,340.5 1146.6,340.9 1143.0,341.9C1139.3,342.8 1135.1,344.6 1131.9,344.6C1128.7,344.6 1126.4,343.7 1123.6,341.9C1120.8,340.0 1118.1,335.9 1115.3,333.6C1112.5,331.3 1109.3,330.3 1107.0,328.0C1104.7,325.7 1103.8,322.0 1101.5,319.7C1099.2,317.4 1096.4,315.4 1093.2,314.2C1090.0,313.0 1084.9,313.5 1082.1,312.8C1079.4,312.1 1077.7,311.7 1076.6,310.1C1075.4,308.4 1074.7,305.4 1075.2,303.1Z" fill="#c65b6b"/>
<path d="M1118.1,283.8C1120.8,280.1 1126.4,276.9 1129.1,278.3C1131.9,279.6 1134.2,286.6 1134.7,292.1C1135.1,297.6 1133.7,306.8 1131.9,311.4C1130.0,316.0 1126.4,319.3 1123.6,319.7C1120.8,320.2 1117.1,317.4 1115.3,314.2C1113.5,311.0 1112.1,305.4 1112.5,300.4C1113.0,295.3 1115.3,287.5 1118.1,283.8Z" fill="#ffffff"/>
<path d="M1184.4,292.1C1184.9,290.2 1190.4,288.9 1192.7,289.3C1195.0,289.8 1196.0,293.0 1198.3,294.8C1200.6,296.7 1203.8,297.6 1206.6,300.4C1209.3,303.1 1212.5,307.7 1214.8,311.4C1217.2,315.1 1218.5,319.7 1220.4,322.5C1222.2,325.3 1224.8,325.3 1225.9,328.0C1227.1,330.8 1227.7,335.4 1227.3,339.1C1226.8,342.8 1225.2,347.8 1223.1,350.1C1221.1,352.5 1217.6,352.5 1214.8,352.9C1212.1,353.4 1209.3,353.4 1206.6,352.9C1203.8,352.5 1201.0,349.7 1198.3,350.1C1195.5,350.6 1192.3,354.3 1190.0,355.7C1187.7,357.1 1186.3,358.9 1184.4,358.4C1182.6,358.0 1179.4,355.7 1178.9,352.9C1178.4,350.1 1180.3,345.1 1181.7,341.9C1183.0,338.6 1185.4,336.8 1187.2,333.6C1189.0,330.3 1191.8,326.6 1192.7,322.5C1193.6,318.3 1193.2,312.4 1192.7,308.7C1192.3,305.0 1191.3,303.1 1190.0,300.4C1188.6,297.6 1184.0,293.9 1184.4,292.1Z" fill="#0e7f3f"/>
<path d="M1202.4,217.4C1203.3,215.1 1205.9,213.3 1209.3,211.9C1212.8,210.5 1219.0,209.6 1223.1,209.1C1227.3,208.7 1230.5,208.4 1234.2,209.1C1237.9,209.8 1241.1,211.9 1245.3,213.3C1249.4,214.7 1255.4,215.8 1259.1,217.4C1262.8,219.0 1265.5,219.7 1267.4,223.0C1269.2,226.2 1270.1,232.2 1270.1,236.8C1270.1,241.4 1268.3,246.9 1267.4,250.6C1266.5,254.3 1266.9,256.1 1264.6,258.9C1262.3,261.7 1257.2,265.4 1253.6,267.2C1249.9,269.0 1245.7,269.5 1242.5,270.0C1239.3,270.4 1237.0,270.9 1234.2,270.0C1231.4,269.0 1228.2,267.2 1225.9,264.4C1223.6,261.7 1223.1,256.1 1220.4,253.4C1217.6,250.6 1212.1,250.6 1209.3,247.8C1206.6,245.1 1204.7,240.5 1203.8,236.8C1202.9,233.1 1204.0,228.9 1203.8,225.7C1203.6,222.5 1201.5,219.7 1202.4,217.4Z" fill="#cbbd6a"/>
<path d="M1232.8,213.3C1234.0,212.1 1238.6,212.1 1239.7,213.3C1240.9,214.4 1240.9,219.0 1239.7,220.2C1238.6,221.3 1234.0,221.3 1232.8,220.2C1231.7,219.0 1231.7,214.4 1232.8,213.3Z" fill="#984a9f"/>
<path d="M1223.1,261.7C1224.1,259.1 1229.1,257.1 1231.4,257.5C1233.7,258.0 1237.0,261.9 1237.0,264.4C1237.0,267.0 1233.3,271.3 1231.4,272.7C1229.6,274.1 1227.3,274.6 1225.9,272.7C1224.5,270.9 1222.2,264.2 1223.1,261.7Z" fill="#984a9f"/>
<path d="M1202.4,220.2C1203.1,219.0 1205.9,217.9 1206.6,218.8C1207.2,219.7 1207.2,224.6 1206.6,225.7C1205.9,226.9 1203.1,226.6 1202.4,225.7C1201.7,224.8 1201.7,221.3 1202.4,220.2Z" fill="#984a9f"/>
<path d="M1219.0,275.5C1220.1,273.6 1224.3,271.8 1225.9,272.7C1227.5,273.6 1228.9,278.7 1228.7,281.0C1228.4,283.3 1226.1,286.1 1224.5,286.6C1222.9,287.0 1219.9,285.6 1219.0,283.8C1218.1,281.9 1217.8,277.3 1219.0,275.5Z" fill="#22a38f"/>
</g>
<g filter="url(#rough)">
<path d="M1464.4,171.8C1465.1,170.0 1469.5,166.5 1472.7,164.9C1476.0,163.3 1480.1,162.1 1483.8,162.1C1487.5,162.1 1491.2,163.5 1494.8,164.9C1498.5,166.3 1502.9,168.6 1505.9,170.4C1508.9,172.3 1512.4,174.1 1512.8,175.9C1513.3,177.8 1510.7,180.6 1508.7,181.5C1506.6,182.4 1503.6,181.2 1500.4,181.5C1497.2,181.7 1493.0,183.1 1489.3,182.9C1485.6,182.6 1481.7,181.2 1478.3,180.1C1474.8,178.9 1470.9,177.3 1468.6,175.9C1466.3,174.6 1463.7,173.6 1464.4,171.8Z" fill="#0e7f3f"/>
<path d="M1492.1,198.1C1493.0,194.8 1497.2,188.6 1500.4,187.0C1503.6,185.4 1507.7,187.5 1511.4,188.4C1515.1,189.3 1519.7,190.5 1522.5,192.5C1525.3,194.6 1527.1,198.1 1528.0,200.8C1528.9,203.6 1528.9,206.4 1528.0,209.1C1527.1,211.9 1524.3,215.8 1522.5,217.4C1520.7,219.0 1518.8,219.3 1517.0,218.8C1515.1,218.3 1513.7,216.3 1511.4,214.7C1509.1,213.0 1505.9,210.5 1503.1,209.1C1500.4,207.7 1496.7,208.2 1494.8,206.4C1493.0,204.5 1491.2,201.3 1492.1,198.1Z" fill="#0e7f3f"/>
<path d="M1474.1,234.0C1474.1,232.4 1476.2,228.5 1478.3,225.7C1480.3,223.0 1484.0,219.7 1486.6,217.4C1489.1,215.1 1492.5,211.9 1493.5,211.9C1494.4,211.9 1493.5,215.1 1492.1,217.4C1490.7,219.7 1487.5,222.7 1485.2,225.7C1482.9,228.7 1480.1,234.0 1478.3,235.4C1476.4,236.8 1474.1,235.6 1474.1,234.0Z" fill="#0e7f3f"/>
<path d="M1356.6,245.1C1357.3,242.1 1359.4,237.2 1362.1,234.0C1364.9,230.8 1369.0,228.5 1373.2,225.7C1377.3,223.0 1382.9,220.2 1387.0,217.4C1391.2,214.7 1394.8,212.4 1398.1,209.1C1401.3,205.9 1403.6,200.6 1406.4,198.1C1409.1,195.5 1411.4,193.9 1414.7,193.9C1417.9,193.9 1422.0,196.9 1425.7,198.1C1429.4,199.2 1432.6,201.1 1436.8,200.8C1440.9,200.6 1446.5,196.2 1450.6,196.7C1454.8,197.1 1458.9,201.1 1461.7,203.6C1464.4,206.1 1466.7,208.7 1467.2,211.9C1467.7,215.1 1465.8,219.3 1464.4,223.0C1463.0,226.6 1461.7,231.2 1458.9,234.0C1456.1,236.8 1451.5,238.2 1447.8,239.5C1444.2,240.9 1440.5,242.3 1436.8,242.3C1433.1,242.3 1428.9,239.5 1425.7,239.5C1422.5,239.5 1420.2,241.4 1417.4,242.3C1414.7,243.2 1412.4,244.2 1409.1,245.1C1405.9,246.0 1401.8,246.5 1398.1,247.8C1394.4,249.2 1390.7,252.0 1387.0,253.4C1383.3,254.8 1379.6,255.7 1375.9,256.1C1372.3,256.6 1367.9,256.8 1364.9,256.1C1361.9,255.4 1359.4,253.8 1358.0,252.0C1356.6,250.1 1355.9,248.1 1356.6,245.1Z" fill="#c65b6b"/>
<path d="M1377.3,278.3C1378.3,274.1 1380.8,267.7 1384.2,264.4C1387.7,261.2 1393.5,260.3 1398.1,258.9C1402.7,257.5 1407.3,257.1 1411.9,256.1C1416.5,255.2 1421.1,253.6 1425.7,253.4C1430.3,253.1 1435.4,253.8 1439.5,254.8C1443.7,255.7 1446.9,258.2 1450.6,258.9C1454.3,259.6 1458.4,258.0 1461.7,258.9C1464.9,259.8 1468.1,261.2 1470.0,264.4C1471.8,267.7 1472.5,273.6 1472.7,278.3C1473.0,282.9 1471.8,287.5 1471.3,292.1C1470.9,296.7 1471.1,302.2 1470.0,305.9C1468.8,309.6 1467.2,311.9 1464.4,314.2C1461.7,316.5 1456.1,317.0 1453.4,319.7C1450.6,322.5 1449.7,327.6 1447.8,330.8C1446.0,334.0 1445.1,337.2 1442.3,339.1C1439.5,340.9 1435.4,341.2 1431.2,341.9C1427.1,342.5 1422.0,343.7 1417.4,343.2C1412.8,342.8 1407.7,341.2 1403.6,339.1C1399.4,337.0 1395.8,333.6 1392.5,330.8C1389.3,328.0 1386.1,325.3 1384.2,322.5C1382.4,319.7 1381.0,317.0 1381.5,314.2C1381.9,311.4 1386.5,308.7 1387.0,305.9C1387.5,303.1 1385.6,300.4 1384.2,297.6C1382.9,294.8 1379.9,292.5 1378.7,289.3C1377.6,286.1 1376.4,282.4 1377.3,278.3Z" fill="#57bde7"/>
<path d="M1461.7,223.0C1463.5,220.6 1469.5,219.3 1472.7,220.2C1476.0,221.1 1477.3,227.6 1481.0,228.5C1484.7,229.4 1491.2,225.7 1494.8,225.7C1498.5,225.7 1501.5,226.2 1503.1,228.5C1504.8,230.8 1505.0,236.3 1504.5,239.5C1504.1,242.8 1503.4,246.5 1500.4,247.8C1497.4,249.2 1490.7,247.4 1486.6,247.8C1482.4,248.3 1478.7,250.1 1475.5,250.6C1472.3,251.1 1469.0,252.0 1467.2,250.6C1465.4,249.2 1465.4,245.1 1464.4,242.3C1463.5,239.5 1462.1,237.2 1461.7,234.0C1461.2,230.8 1459.8,225.3 1461.7,223.0Z" fill="#57bde7"/>
<path d="M1453.4,308.7C1454.5,307.3 1458.7,305.9 1461.7,305.9C1464.7,305.9 1469.7,307.3 1471.3,308.7C1473.0,310.1 1473.0,313.0 1471.3,314.2C1469.7,315.4 1464.4,315.6 1461.7,315.6C1458.9,315.6 1456.1,315.4 1454.8,314.2C1453.4,313.0 1452.2,310.1 1453.4,308.7Z" fill="#2b3c9b"/>
<path d="M1439.5,336.3C1440.2,335.2 1444.2,334.2 1445.1,334.9C1446.0,335.6 1445.8,339.3 1445.1,340.5C1444.4,341.6 1441.8,342.5 1440.9,341.9C1440.0,341.2 1438.9,337.5 1439.5,336.3Z" fill="#2b3c9b"/>
<path d="M1487.9,264.4C1488.6,261.2 1491.9,259.8 1494.8,258.9C1497.8,258.0 1502.2,258.4 1505.9,258.9C1509.6,259.4 1513.3,261.2 1517.0,261.7C1520.7,262.1 1524.3,261.2 1528.0,261.7C1531.7,262.1 1535.9,263.0 1539.1,264.4C1542.3,265.8 1545.8,266.7 1547.4,270.0C1549.0,273.2 1548.8,279.6 1548.8,283.8C1548.8,287.9 1547.4,291.2 1547.4,294.8C1547.4,298.5 1548.5,301.8 1548.8,305.9C1549.0,310.1 1549.5,316.0 1548.8,319.7C1548.1,323.4 1547.2,326.2 1544.6,328.0C1542.1,329.9 1537.2,330.6 1533.6,330.8C1529.9,331.0 1525.7,330.8 1522.5,329.4C1519.3,328.0 1516.5,325.0 1514.2,322.5C1511.9,320.0 1511.0,317.4 1508.7,314.2C1506.4,311.0 1502.7,306.8 1500.4,303.1C1498.1,299.5 1496.5,296.2 1494.8,292.1C1493.2,287.9 1491.9,282.9 1490.7,278.3C1489.5,273.6 1487.2,267.7 1487.9,264.4Z" fill="#cbbd6a"/>
<path d="M1494.8,261.7C1495.8,260.3 1501.8,259.1 1505.9,258.9C1510.1,258.7 1515.1,259.4 1519.7,260.3C1524.3,261.2 1530.3,262.8 1533.6,264.4C1536.8,266.0 1539.5,268.8 1539.1,270.0C1538.6,271.1 1534.0,271.3 1530.8,271.3C1527.6,271.3 1523.4,270.4 1519.7,270.0C1516.0,269.5 1511.9,269.0 1508.7,268.6C1505.4,268.1 1502.7,268.3 1500.4,267.2C1498.1,266.0 1493.9,263.0 1494.8,261.7Z" fill="#984a9f" filter="url(#mix)"/>
<path d="M1537.7,294.8C1538.9,293.0 1543.0,293.0 1544.6,294.8C1546.2,296.7 1547.8,303.1 1547.4,305.9C1546.9,308.7 1543.5,311.4 1541.9,311.4C1540.2,311.4 1538.4,308.7 1537.7,305.9C1537.0,303.1 1536.6,296.7 1537.7,294.8Z" fill="#984a9f"/>
<path d="M1534.9,253.4C1535.9,251.3 1539.8,251.1 1541.9,252.0C1543.9,252.9 1546.5,256.4 1547.4,258.9C1548.3,261.4 1548.3,265.4 1547.4,267.2C1546.5,269.0 1543.7,270.4 1541.9,270.0C1540.0,269.5 1537.5,267.2 1536.3,264.4C1535.2,261.7 1534.0,255.4 1534.9,253.4Z" fill="#22a38f"/>
</g>
<g filter="url(#rough)">
<path d="M569.5,455.9C570.7,453.6 574.6,448.6 577.8,446.3C581.1,444.0 585.2,443.3 588.9,442.1C592.6,441.0 596.3,438.9 600.0,439.4C603.6,439.8 608.3,442.6 611.0,444.9C613.8,447.2 615.2,450.0 616.6,453.2C617.9,456.4 618.6,460.6 619.3,464.2C620.0,467.9 621.2,472.1 620.7,475.3C620.2,478.5 617.7,480.8 616.6,483.6C615.4,486.4 615.2,489.4 613.8,491.9C612.4,494.4 610.6,497.0 608.3,498.8C606.0,500.6 602.7,502.5 600.0,503.0C597.2,503.4 592.6,503.4 591.7,501.6C590.7,499.7 593.5,495.3 594.4,491.9C595.4,488.4 597.2,484.5 597.2,480.8C597.2,477.1 595.4,473.0 594.4,469.8C593.5,466.5 593.5,462.4 591.7,461.5C589.8,460.6 586.1,463.8 583.4,464.2C580.6,464.7 577.1,464.9 575.1,464.2C573.0,463.6 571.8,461.5 570.9,460.1C570.0,458.7 568.4,458.3 569.5,455.9Z" fill="#0e7f3f"/>
<path d="M481.1,540.3C481.8,538.0 485.2,534.1 488.0,530.6C490.7,527.1 494.7,523.2 497.7,519.5C500.6,515.9 503.6,512.2 505.9,508.5C508.3,504.8 509.2,500.9 511.5,497.4C513.8,494.0 516.5,489.1 519.8,487.7C523.0,486.4 527.1,488.7 530.8,489.1C534.5,489.6 538.2,490.7 541.9,490.5C545.6,490.3 549.3,487.5 553.0,487.7C556.6,488.0 560.3,490.3 564.0,491.9C567.7,493.5 572.8,494.7 575.1,497.4C577.4,500.2 578.3,504.8 577.8,508.5C577.4,512.2 574.2,516.3 572.3,519.5C570.5,522.8 569.1,526.0 566.8,527.8C564.5,529.7 560.8,529.2 558.5,530.6C556.2,532.0 554.8,533.8 553.0,536.1C551.1,538.4 549.7,542.1 547.4,544.4C545.1,546.7 541.9,548.6 539.1,550.0C536.4,551.3 533.6,552.7 530.8,552.7C528.1,552.7 525.3,550.9 522.5,550.0C519.8,549.0 517.0,547.4 514.2,547.2C511.5,547.0 508.7,547.7 505.9,548.6C503.2,549.5 500.2,552.5 497.7,552.7C495.1,553.0 493.0,551.3 490.7,550.0C488.4,548.6 485.4,546.0 483.8,544.4C482.2,542.8 480.4,542.6 481.1,540.3Z" fill="#c65b6b"/>
<path d="M528.1,525.1C529.9,522.3 535.4,518.6 539.1,516.8C542.8,514.9 547.0,513.6 550.2,514.0C553.4,514.5 555.7,516.8 558.5,519.5C561.2,522.3 564.9,526.9 566.8,530.6C568.6,534.3 570.0,538.4 569.5,541.7C569.1,544.9 566.8,548.6 564.0,550.0C561.2,551.3 556.6,550.4 553.0,550.0C549.3,549.5 545.1,548.6 541.9,547.2C538.7,545.8 535.9,544.0 533.6,541.7C531.3,539.4 529.0,536.1 528.1,533.4C527.1,530.6 526.2,527.8 528.1,525.1Z" fill="#57bde7" filter="url(#mix)"/>
<path d="M505.9,569.3C505.5,566.6 508.7,562.9 511.5,561.0C514.2,559.2 518.9,558.7 522.5,558.3C526.2,557.8 529.9,558.7 533.6,558.3C537.3,557.8 541.0,556.0 544.7,555.5C548.3,555.0 552.0,556.0 555.7,555.5C559.4,555.0 563.6,554.6 566.8,552.7C570.0,550.9 572.8,546.3 575.1,544.4C577.4,542.6 578.8,540.3 580.6,541.7C582.4,543.0 584.8,549.0 586.1,552.7C587.5,556.4 587.5,560.6 588.9,563.8C590.3,567.0 593.0,568.4 594.4,572.1C595.8,575.8 596.7,581.3 597.2,585.9C597.7,590.5 598.1,595.1 597.2,599.7C596.3,604.3 593.5,609.4 591.7,613.6C589.8,617.7 588.4,620.9 586.1,624.6C583.8,628.3 580.6,632.9 577.8,635.7C575.1,638.4 572.3,640.7 569.5,641.2C566.8,641.7 563.6,640.7 561.2,638.4C558.9,636.1 558.0,630.6 555.7,627.4C553.4,624.2 550.6,621.9 547.4,619.1C544.2,616.3 539.1,614.0 536.4,610.8C533.6,607.6 532.2,603.4 530.8,599.7C529.4,596.0 529.4,591.4 528.1,588.7C526.7,585.9 524.8,585.0 522.5,583.1C520.2,581.3 517.0,579.9 514.2,577.6C511.5,575.3 506.4,572.1 505.9,569.3Z" fill="#57bde7"/>
<path d="M561.2,621.9C562.6,619.5 568.6,620.5 572.3,619.1C576.0,617.7 580.6,613.6 583.4,613.6C586.1,613.6 588.4,616.3 588.9,619.1C589.4,621.9 588.0,626.9 586.1,630.1C584.3,633.4 580.6,636.8 577.8,638.4C575.1,640.1 571.8,640.7 569.5,639.8C567.2,638.9 565.4,635.9 564.0,632.9C562.6,629.9 559.9,624.2 561.2,621.9Z" fill="#2b3c9b"/>
<path d="M649.7,505.7C651.3,502.7 654.8,500.2 658.0,498.8C661.3,497.4 666.3,496.3 669.1,497.4C671.9,498.6 673.2,502.5 674.6,505.7C676.0,508.9 676.9,513.1 677.4,516.8C677.8,520.5 678.3,525.1 677.4,527.8C676.5,530.6 674.2,532.4 671.9,533.4C669.5,534.3 666.3,533.8 663.6,533.4C660.8,532.9 657.6,532.0 655.3,530.6C653.0,529.2 650.9,527.4 649.7,525.1C648.6,522.8 648.3,520.0 648.3,516.8C648.3,513.6 648.1,508.7 649.7,505.7Z" fill="#57bde7"/>
<path d="M591.7,530.6C592.1,527.8 599.0,527.4 602.7,527.8C606.4,528.3 611.5,531.1 613.8,533.4C616.1,535.7 617.5,539.4 616.6,541.7C615.6,544.0 611.0,546.7 608.3,547.2C605.5,547.7 602.7,547.2 600.0,544.4C597.2,541.7 591.2,533.4 591.7,530.6Z" fill="#57bde7"/>
<path d="M611.0,508.5C612.2,506.2 617.0,504.8 619.3,505.7C621.6,506.6 623.9,510.8 624.8,514.0C625.8,517.2 626.2,522.8 624.8,525.1C623.5,527.4 618.6,528.8 616.6,527.8C614.5,526.9 613.3,522.8 612.4,519.5C611.5,516.3 609.9,510.8 611.0,508.5Z" fill="#22a38f"/>
<path d="M619.3,541.7C621.2,538.4 626.2,535.2 630.4,533.4C634.5,531.5 639.6,531.1 644.2,530.6C648.8,530.1 653.9,529.7 658.0,530.6C662.2,531.5 666.3,533.8 669.1,536.1C671.9,538.4 674.2,541.2 674.6,544.4C675.1,547.7 673.7,552.7 671.9,555.5C670.0,558.3 667.2,559.6 663.6,561.0C659.9,562.4 653.4,562.4 649.7,563.8C646.0,565.2 644.2,568.9 641.4,569.3C638.7,569.8 635.9,567.9 633.1,566.6C630.4,565.2 627.2,563.3 624.8,561.0C622.5,558.7 620.2,556.0 619.3,552.7C618.4,549.5 617.5,544.9 619.3,541.7Z" fill="#cbbd6a"/>
<path d="M619.3,544.4C620.2,541.4 624.8,538.9 627.6,538.9C630.4,538.9 634.1,542.1 635.9,544.4C637.7,546.7 639.6,550.4 638.7,552.7C637.7,555.0 633.1,557.6 630.4,558.3C627.6,558.9 623.9,559.2 622.1,556.9C620.2,554.6 618.4,547.4 619.3,544.4Z" fill="#984a9f" filter="url(#mix)"/>
<path d="M622.1,591.4C623.0,588.7 626.7,585.4 630.4,583.1C634.1,580.8 639.6,578.5 644.2,577.6C648.8,576.7 654.6,576.2 658.0,577.6C661.5,579.0 663.6,582.7 664.9,585.9C666.3,589.1 666.8,593.3 666.3,597.0C665.9,600.7 664.5,605.3 662.2,608.0C659.9,610.8 656.0,612.4 652.5,613.6C649.0,614.7 644.9,615.9 641.4,614.9C638.0,614.0 634.5,610.6 631.8,608.0C629.0,605.5 626.5,602.5 624.8,599.7C623.2,597.0 621.2,594.2 622.1,591.4Z" fill="#cbbd6a"/>
<path d="M635.9,563.8C637.5,561.3 645.4,561.3 647.0,563.8C648.6,566.3 647.2,576.5 645.6,579.0C644.0,581.5 638.9,581.5 637.3,579.0C635.7,576.5 634.3,566.3 635.9,563.8Z" fill="#cbbd6a"/>
</g>
<g filter="url(#rough)">
<path d="M779.0,544.4C779.0,537.5 780.2,526.0 781.8,519.5C783.4,513.1 786.6,510.3 788.7,505.7C790.8,501.1 791.5,495.1 794.2,491.9C797.0,488.7 801.6,486.8 805.3,486.4C809.0,485.9 812.7,488.0 816.4,489.1C820.0,490.3 823.3,491.4 827.4,493.3C831.6,495.1 836.6,497.2 841.2,500.2C845.9,503.2 850.9,507.1 855.1,511.2C859.2,515.4 863.4,520.0 866.1,525.1C868.9,530.1 870.7,536.1 871.7,541.7C872.6,547.2 872.1,551.3 871.7,558.3C871.2,565.2 868.7,576.2 868.9,583.1C869.1,590.1 873.0,595.1 873.0,599.7C873.0,604.3 871.9,607.6 868.9,610.8C865.9,614.0 859.2,617.7 855.1,619.1C850.9,620.5 847.7,620.0 844.0,619.1C840.3,618.2 836.2,616.3 833.0,613.6C829.7,610.8 827.4,606.2 824.7,602.5C821.9,598.8 820.0,593.3 816.4,591.4C812.7,589.6 806.2,592.8 802.5,591.4C798.9,590.1 796.8,586.4 794.2,583.1C791.7,579.9 789.4,575.8 787.3,572.1C785.3,568.4 783.2,565.6 781.8,561.0C780.4,556.4 779.0,551.3 779.0,544.4Z" fill="#57bde7"/>
<path d="M815.0,494.7C816.4,492.4 822.4,491.9 824.7,493.3C827.0,494.7 828.8,500.2 828.8,503.0C828.8,505.7 826.7,509.2 824.7,509.9C822.6,510.6 818.0,509.6 816.4,507.1C814.7,504.6 813.6,497.0 815.0,494.7Z" fill="#ffffff"/>
<path d="M810.8,558.3C812.7,554.1 820.5,552.7 824.7,552.7C828.8,552.7 833.4,555.0 835.7,558.3C838.0,561.5 838.9,567.9 838.5,572.1C838.0,576.2 835.7,580.8 833.0,583.1C830.2,585.4 825.1,586.8 821.9,585.9C818.7,585.0 815.4,582.2 813.6,577.6C811.8,573.0 809.0,562.4 810.8,558.3Z" fill="#ffffff"/>
<path d="M821.9,591.4C822.8,589.1 829.3,588.7 833.0,588.7C836.6,588.7 841.2,589.1 844.0,591.4C846.8,593.7 849.5,599.3 849.5,602.5C849.5,605.7 846.8,609.4 844.0,610.8C841.2,612.2 835.7,612.2 833.0,610.8C830.2,609.4 829.3,605.7 827.4,602.5C825.6,599.3 821.0,593.7 821.9,591.4Z" fill="#2b3c9b"/>
<path d="M808.1,485.0C808.5,483.4 815.4,482.4 819.1,480.8C822.8,479.2 827.4,477.6 830.2,475.3C833.0,473.0 833.4,468.2 835.7,467.0C838.0,465.9 840.8,467.0 844.0,468.4C847.2,469.8 851.4,473.2 855.1,475.3C858.8,477.4 862.4,478.1 866.1,480.8C869.8,483.6 874.4,488.2 877.2,491.9C880.0,495.6 881.1,498.8 882.7,503.0C884.3,507.1 886.0,512.2 886.9,516.8C887.8,521.4 888.5,526.0 888.3,530.6C888.0,535.2 886.4,540.7 885.5,544.4C884.6,548.1 882.3,550.0 882.7,552.7C883.2,555.5 886.0,557.8 888.3,561.0C890.6,564.2 894.2,567.9 896.6,572.1C898.9,576.2 901.6,582.2 902.1,585.9C902.5,589.6 901.2,591.9 899.3,594.2C897.5,596.5 893.8,599.3 891.0,599.7C888.3,600.2 884.6,599.3 882.7,597.0C880.9,594.7 881.3,590.1 880.0,585.9C878.6,581.8 875.8,576.7 874.4,572.1C873.0,567.5 872.6,562.9 871.7,558.3C870.7,553.6 869.8,549.0 868.9,544.4C868.0,539.8 867.5,534.8 866.1,530.6C864.8,526.5 862.9,523.2 860.6,519.5C858.3,515.9 855.1,512.2 852.3,508.5C849.5,504.8 846.8,500.2 844.0,497.4C841.2,494.7 838.5,493.3 835.7,491.9C833.0,490.5 830.6,489.4 827.4,489.1C824.2,488.9 819.6,491.2 816.4,490.5C813.1,489.8 807.6,486.6 808.1,485.0Z" fill="#c65b6b"/>
<path d="M891.0,464.2C892.4,461.5 894.7,458.3 896.6,455.9C898.4,453.6 900.5,449.5 902.1,450.4C903.7,451.3 905.5,457.8 906.2,461.5C906.9,465.2 906.7,468.9 906.2,472.5C905.8,476.2 904.8,480.8 903.5,483.6C902.1,486.4 899.5,489.6 897.9,489.1C896.3,488.7 895.4,483.6 893.8,480.8C892.2,478.1 888.7,475.3 888.3,472.5C887.8,469.8 889.6,467.0 891.0,464.2Z" fill="#cbbd6a"/>
<path d="M910.4,489.1C910.8,486.6 913.1,483.6 915.9,482.2C918.7,480.8 923.7,480.1 927.0,480.8C930.2,481.5 932.5,484.5 935.3,486.4C938.0,488.2 940.6,491.0 943.6,491.9C946.6,492.8 949.5,491.0 953.2,491.9C956.9,492.8 962.2,495.1 965.7,497.4C969.1,499.7 971.7,502.5 974.0,505.7C976.3,508.9 978.8,512.6 979.5,516.8C980.2,520.9 979.0,526.9 978.1,530.6C977.2,534.3 976.0,537.1 974.0,538.9C971.9,540.7 968.9,541.4 965.7,541.7C962.5,541.9 957.8,541.2 954.6,540.3C951.4,539.4 949.1,538.2 946.3,536.1C943.6,534.1 940.8,530.1 938.0,527.8C935.3,525.5 932.0,524.6 929.7,522.3C927.4,520.0 926.0,516.8 924.2,514.0C922.4,511.2 920.5,508.5 918.7,505.7C916.8,503.0 914.5,500.2 913.1,497.4C911.8,494.7 909.9,491.7 910.4,489.1Z" fill="#cbbd6a"/>
<path d="M918.7,497.4C919.1,495.8 926.3,496.0 929.7,496.0C933.2,496.0 937.1,495.8 939.4,497.4C941.7,499.0 944.2,503.9 943.6,505.7C942.9,507.6 938.0,508.5 935.3,508.5C932.5,508.5 929.7,507.6 927.0,505.7C924.2,503.9 918.2,499.0 918.7,497.4Z" fill="#984a9f"/>
<path d="M949.1,514.0C950.0,512.2 954.6,512.6 956.0,514.0C957.4,515.4 958.3,520.5 957.4,522.3C956.5,524.2 951.9,526.5 950.5,525.1C949.1,523.7 948.2,515.9 949.1,514.0Z" fill="#984a9f"/>
<path d="M907.6,508.5C908.5,506.2 910.8,504.8 913.1,505.7C915.4,506.6 918.7,511.2 921.4,514.0C924.2,516.8 927.4,519.5 929.7,522.3C932.0,525.1 933.9,527.4 935.3,530.6C936.6,533.8 938.5,538.0 938.0,541.7C937.6,545.4 934.3,549.5 932.5,552.7C930.7,556.0 928.8,560.1 927.0,561.0C925.1,561.9 923.7,559.2 921.4,558.3C919.1,557.3 915.9,556.4 913.1,555.5C910.4,554.6 906.2,555.0 904.8,552.7C903.5,550.4 904.4,545.4 904.8,541.7C905.3,538.0 907.2,534.3 907.6,530.6C908.1,526.9 907.6,523.2 907.6,519.5C907.6,515.9 906.7,510.8 907.6,508.5Z" fill="#57bde7"/>
<path d="M918.7,558.3C919.8,556.4 924.9,555.0 927.0,555.5C929.0,556.0 931.1,559.2 931.1,561.0C931.1,562.9 928.8,565.6 927.0,566.6C925.1,567.5 921.4,567.9 920.1,566.6C918.7,565.2 917.5,560.1 918.7,558.3Z" fill="#22a38f"/>
<path d="M896.6,624.6C897.5,621.4 901.6,618.2 904.8,616.3C908.1,614.5 914.5,616.3 915.9,613.6C917.3,610.8 913.6,603.4 913.1,599.7C912.7,596.0 911.3,593.3 913.1,591.4C915.0,589.6 921.4,590.5 924.2,588.7C927.0,586.8 927.4,582.0 929.7,580.4C932.0,578.8 935.7,578.1 938.0,579.0C940.3,579.9 942.2,582.9 943.6,585.9C944.9,588.9 946.8,593.7 946.3,597.0C945.9,600.2 943.1,603.0 940.8,605.3C938.5,607.6 933.9,608.0 932.5,610.8C931.1,613.6 933.0,618.6 932.5,621.9C932.0,625.1 931.6,628.3 929.7,630.1C927.9,632.0 924.2,632.0 921.4,632.9C918.7,633.8 915.9,634.8 913.1,635.7C910.4,636.6 907.2,638.4 904.8,638.4C902.5,638.4 900.7,638.0 899.3,635.7C897.9,633.4 895.6,627.8 896.6,624.6Z" fill="#0e7f3f"/>
<path d="M943.6,569.3C944.7,567.2 949.1,564.7 951.9,565.2C954.6,565.6 958.5,569.5 960.1,572.1C961.8,574.6 962.0,577.8 961.5,580.4C961.1,582.9 959.2,586.4 957.4,587.3C955.5,588.2 952.5,587.5 950.5,585.9C948.4,584.3 946.1,580.4 944.9,577.6C943.8,574.8 942.4,571.4 943.6,569.3Z" fill="#0e7f3f"/>
</g>
<g filter="url(#rough)">
<path d="M1089.0,486.4C1090.0,482.2 1093.0,476.0 1095.9,472.5C1098.9,469.1 1102.9,467.0 1107.0,465.6C1111.2,464.2 1116.2,464.0 1120.8,464.2C1125.4,464.5 1130.5,465.9 1134.7,467.0C1138.8,468.2 1142.5,469.3 1145.7,471.2C1148.9,473.0 1152.2,475.1 1154.0,478.1C1155.9,481.1 1156.8,485.4 1156.8,489.1C1156.8,492.8 1155.9,497.0 1154.0,500.2C1152.2,503.4 1148.9,507.1 1145.7,508.5C1142.5,509.9 1138.3,508.9 1134.7,508.5C1131.0,508.0 1126.8,505.7 1123.6,505.7C1120.4,505.7 1118.1,507.6 1115.3,508.5C1112.5,509.4 1109.8,511.7 1107.0,511.2C1104.2,510.8 1101.5,508.0 1098.7,505.7C1095.9,503.4 1092.0,500.6 1090.4,497.4C1088.8,494.2 1088.1,490.5 1089.0,486.4Z" fill="#cbbd6a"/>
<path d="M1101.5,475.3C1104.2,473.5 1113.0,472.1 1118.1,472.5C1123.1,473.0 1127.7,476.2 1131.9,478.1C1136.0,479.9 1140.6,480.8 1143.0,483.6C1145.3,486.4 1146.6,492.4 1145.7,494.7C1144.8,497.0 1140.6,497.9 1137.4,497.4C1134.2,497.0 1130.5,493.3 1126.4,491.9C1122.2,490.5 1116.7,490.5 1112.5,489.1C1108.4,487.7 1103.3,485.9 1101.5,483.6C1099.6,481.3 1098.7,477.1 1101.5,475.3Z" fill="#984a9f" filter="url(#mix)"/>
<path d="M1097.3,519.5C1098.5,517.2 1102.2,515.9 1104.2,516.8C1106.3,517.7 1107.5,522.3 1109.8,525.1C1112.1,527.8 1117.1,531.1 1118.1,533.4C1119.0,535.7 1117.6,537.5 1115.3,538.9C1113.0,540.3 1107.0,541.7 1104.2,541.7C1101.5,541.7 1099.9,540.7 1098.7,538.9C1097.6,537.1 1097.6,533.8 1097.3,530.6C1097.1,527.4 1096.2,521.8 1097.3,519.5Z" fill="#cbbd6a"/>
<path d="M1090.4,561.0C1091.6,557.8 1093.6,554.6 1095.9,552.7C1098.3,550.9 1101.0,550.4 1104.2,550.0C1107.5,549.5 1111.6,550.9 1115.3,550.0C1119.0,549.0 1122.7,546.3 1126.4,544.4C1130.0,542.6 1133.7,540.1 1137.4,538.9C1141.1,537.7 1145.3,536.8 1148.5,537.5C1151.7,538.2 1155.9,540.5 1156.8,543.0C1157.7,545.6 1156.3,550.2 1154.0,552.7C1151.7,555.3 1146.2,556.4 1143.0,558.3C1139.7,560.1 1137.4,561.9 1134.7,563.8C1131.9,565.6 1129.1,567.5 1126.4,569.3C1123.6,571.2 1120.8,572.5 1118.1,574.8C1115.3,577.2 1112.5,581.5 1109.8,583.1C1107.0,584.8 1104.2,585.0 1101.5,584.5C1098.7,584.1 1095.3,582.4 1093.2,580.4C1091.1,578.3 1089.5,575.3 1089.0,572.1C1088.6,568.9 1089.3,564.2 1090.4,561.0Z" fill="#0e7f3f"/>
<path d="M1154.0,505.7C1155.6,503.0 1161.4,501.1 1165.1,500.2C1168.8,499.3 1174.3,498.8 1176.1,500.2C1178.0,501.6 1177.1,505.7 1176.1,508.5C1175.2,511.2 1172.9,514.5 1170.6,516.8C1168.3,519.1 1164.8,522.3 1162.3,522.3C1159.8,522.3 1156.8,519.5 1155.4,516.8C1154.0,514.0 1152.4,508.5 1154.0,505.7Z" fill="#57bde7" filter="url(#mix)"/>
<path d="M1176.1,478.1C1177.7,475.3 1183.0,473.5 1187.2,472.5C1191.3,471.6 1196.9,471.6 1201.0,472.5C1205.2,473.5 1208.9,475.3 1212.1,478.1C1215.3,480.8 1218.1,485.9 1220.4,489.1C1222.7,492.4 1223.6,494.2 1225.9,497.4C1228.2,500.6 1232.6,504.8 1234.2,508.5C1235.8,512.2 1235.6,515.9 1235.6,519.5C1235.6,523.2 1234.4,526.9 1234.2,530.6C1234.0,534.3 1234.0,538.0 1234.2,541.7C1234.4,545.4 1235.6,549.0 1235.6,552.7C1235.6,556.4 1235.8,561.0 1234.2,563.8C1232.6,566.6 1228.2,566.6 1225.9,569.3C1223.6,572.1 1221.3,576.2 1220.4,580.4C1219.5,584.5 1220.8,589.6 1220.4,594.2C1219.9,598.8 1218.5,603.9 1217.6,608.0C1216.7,612.2 1216.2,615.4 1214.8,619.1C1213.5,622.8 1211.6,627.4 1209.3,630.1C1207.0,632.9 1203.8,633.8 1201.0,635.7C1198.3,637.5 1196.0,640.7 1192.7,641.2C1189.5,641.7 1185.4,639.8 1181.7,638.4C1178.0,637.1 1174.3,635.2 1170.6,632.9C1166.9,630.6 1162.3,627.8 1159.5,624.6C1156.8,621.4 1155.9,617.7 1154.0,613.6C1152.2,609.4 1149.9,604.3 1148.5,599.7C1147.1,595.1 1145.3,590.1 1145.7,585.9C1146.2,581.8 1149.4,578.5 1151.2,574.8C1153.1,571.2 1154.5,567.0 1156.8,563.8C1159.1,560.6 1162.8,558.7 1165.1,555.5C1167.4,552.3 1169.2,548.6 1170.6,544.4C1172.0,540.3 1172.0,535.2 1173.4,530.6C1174.8,526.0 1178.0,521.4 1178.9,516.8C1179.8,512.2 1179.1,507.6 1178.9,503.0C1178.7,498.3 1178.0,493.3 1177.5,489.1C1177.1,485.0 1174.5,480.8 1176.1,478.1Z" fill="#57bde7"/>
<path d="M1184.4,480.8C1186.7,478.1 1193.6,475.3 1198.3,475.3C1202.9,475.3 1208.4,478.1 1212.1,480.8C1215.8,483.6 1217.6,488.2 1220.4,491.9C1223.1,495.6 1226.8,498.8 1228.7,503.0C1230.5,507.1 1231.4,512.2 1231.4,516.8C1231.4,521.4 1230.1,526.5 1228.7,530.6C1227.3,534.8 1225.4,538.0 1223.1,541.7C1220.8,545.4 1217.2,549.0 1214.8,552.7C1212.5,556.4 1212.1,561.0 1209.3,563.8C1206.6,566.6 1201.9,565.6 1198.3,569.3C1194.6,573.0 1190.4,582.2 1187.2,585.9C1184.0,589.6 1182.1,591.4 1178.9,591.4C1175.7,591.4 1170.1,589.1 1167.8,585.9C1165.5,582.7 1164.2,576.7 1165.1,572.1C1166.0,567.5 1171.1,562.9 1173.4,558.3C1175.7,553.6 1177.5,549.0 1178.9,544.4C1180.3,539.8 1180.7,535.2 1181.7,530.6C1182.6,526.0 1183.5,521.4 1184.4,516.8C1185.4,512.2 1187.2,507.1 1187.2,503.0C1187.2,498.8 1184.9,495.6 1184.4,491.9C1184.0,488.2 1182.1,483.6 1184.4,480.8Z" fill="#c65b6b" filter="url(#mix)"/>
<path d="M1151.2,579.0C1154.0,574.8 1163.9,574.2 1170.6,574.8C1177.3,575.5 1184.4,580.4 1191.3,583.1C1198.3,585.9 1207.9,587.3 1212.1,591.4C1216.2,595.6 1217.2,603.6 1216.2,608.0C1215.3,612.4 1211.9,616.3 1206.6,617.7C1201.3,619.1 1191.3,617.5 1184.4,616.3C1177.5,615.2 1170.1,613.6 1165.1,610.8C1160.0,608.0 1156.3,605.0 1154.0,599.7C1151.7,594.4 1148.5,583.1 1151.2,579.0Z" fill="#c65b6b" filter="url(#mix2)"/>
<path d="M1184.4,583.1C1183.3,580.1 1193.2,576.2 1198.3,572.1C1203.3,567.9 1210.2,558.7 1214.8,558.3C1219.5,557.8 1225.0,564.7 1225.9,569.3C1226.8,573.9 1223.8,582.4 1220.4,585.9C1216.9,589.4 1211.2,590.5 1205.2,590.1C1199.2,589.6 1185.6,586.1 1184.4,583.1Z" fill="#c65b6b" filter="url(#mix)"/>
<path d="M1181.7,632.9C1182.1,630.4 1189.0,626.5 1192.7,624.6C1196.4,622.8 1200.6,621.9 1203.8,621.9C1207.0,621.9 1211.2,622.8 1212.1,624.6C1213.0,626.5 1211.2,630.6 1209.3,632.9C1207.5,635.2 1204.2,637.3 1201.0,638.4C1197.8,639.6 1193.2,640.7 1190.0,639.8C1186.7,638.9 1181.2,635.4 1181.7,632.9Z" fill="#2b3c9b" filter="url(#mix)"/>
</g>
<g filter="url(#rough)">
<path d="M1431.2,489.1C1431.7,486.4 1434.5,483.1 1436.8,480.8C1439.1,478.5 1443.2,478.1 1445.1,475.3C1446.9,472.5 1446.0,467.9 1447.8,464.2C1449.7,460.6 1453.6,455.7 1456.1,453.2C1458.7,450.6 1460.7,448.6 1463.0,449.0C1465.4,449.5 1467.9,453.4 1470.0,455.9C1472.0,458.5 1474.1,461.5 1475.5,464.2C1476.9,467.0 1476.9,469.8 1478.3,472.5C1479.6,475.3 1482.4,478.1 1483.8,480.8C1485.2,483.6 1486.6,486.8 1486.6,489.1C1486.6,491.4 1485.6,493.7 1483.8,494.7C1481.9,495.6 1478.3,495.1 1475.5,494.7C1472.7,494.2 1470.0,491.9 1467.2,491.9C1464.4,491.9 1461.2,495.1 1458.9,494.7C1456.6,494.2 1455.2,490.0 1453.4,489.1C1451.5,488.2 1449.7,488.2 1447.8,489.1C1446.0,490.0 1444.6,493.3 1442.3,494.7C1440.0,496.0 1435.9,498.3 1434.0,497.4C1432.2,496.5 1430.8,491.9 1431.2,489.1Z" fill="#0e7f3f"/>
<path d="M1414.7,514.0C1416.0,511.7 1422.0,515.9 1425.7,516.8C1429.4,517.7 1432.6,518.2 1436.8,519.5C1440.9,520.9 1446.5,523.2 1450.6,525.1C1454.8,526.9 1458.9,528.3 1461.7,530.6C1464.4,532.9 1464.4,537.5 1467.2,538.9C1470.0,540.3 1474.6,539.4 1478.3,538.9C1481.9,538.4 1486.1,536.1 1489.3,536.1C1492.5,536.1 1495.3,537.1 1497.6,538.9C1499.9,540.7 1501.3,544.4 1503.1,547.2C1505.0,550.0 1506.8,552.7 1508.7,555.5C1510.5,558.3 1513.3,561.0 1514.2,563.8C1515.1,566.6 1514.7,569.3 1514.2,572.1C1513.7,574.8 1513.7,579.0 1511.4,580.4C1509.1,581.8 1504.1,581.8 1500.4,580.4C1496.7,579.0 1493.0,573.9 1489.3,572.1C1485.6,570.2 1481.9,570.2 1478.3,569.3C1474.6,568.4 1470.0,566.1 1467.2,566.6C1464.4,567.0 1462.6,568.9 1461.7,572.1C1460.7,575.3 1462.6,581.8 1461.7,585.9C1460.7,590.1 1458.0,593.3 1456.1,597.0C1454.3,600.7 1452.4,604.8 1450.6,608.0C1448.8,611.3 1447.4,614.5 1445.1,616.3C1442.8,618.2 1440.0,619.5 1436.8,619.1C1433.6,618.6 1428.9,614.9 1425.7,613.6C1422.5,612.2 1420.6,611.3 1417.4,610.8C1414.2,610.3 1410.0,611.3 1406.4,610.8C1402.7,610.3 1398.5,609.9 1395.3,608.0C1392.1,606.2 1388.4,602.5 1387.0,599.7C1385.6,597.0 1385.6,593.7 1387.0,591.4C1388.4,589.1 1392.5,587.3 1395.3,585.9C1398.1,584.5 1400.8,584.5 1403.6,583.1C1406.4,581.8 1409.1,579.9 1411.9,577.6C1414.7,575.3 1417.9,572.5 1420.2,569.3C1422.5,566.1 1425.3,562.4 1425.7,558.3C1426.2,554.1 1424.3,549.0 1423.0,544.4C1421.6,539.8 1418.8,535.7 1417.4,530.6C1416.0,525.5 1413.3,516.3 1414.7,514.0Z" fill="#57bde7"/>
<path d="M1370.4,533.4C1370.4,526.5 1371.3,520.9 1373.2,516.8C1375.0,512.6 1378.3,510.6 1381.5,508.5C1384.7,506.4 1388.9,504.8 1392.5,504.3C1396.2,503.9 1399.9,505.0 1403.6,505.7C1407.3,506.4 1411.4,507.1 1414.7,508.5C1417.9,509.9 1421.1,511.2 1423.0,514.0C1424.8,516.8 1426.2,521.4 1425.7,525.1C1425.3,528.8 1420.6,532.4 1420.2,536.1C1419.7,539.8 1422.0,543.5 1423.0,547.2C1423.9,550.9 1425.7,555.0 1425.7,558.3C1425.7,561.5 1424.3,564.2 1423.0,566.6C1421.6,568.9 1419.3,570.2 1417.4,572.1C1415.6,573.9 1414.2,575.8 1411.9,577.6C1409.6,579.5 1406.4,582.2 1403.6,583.1C1400.8,584.1 1398.1,584.1 1395.3,583.1C1392.5,582.2 1389.8,579.9 1387.0,577.6C1384.2,575.3 1381.0,572.5 1378.7,569.3C1376.4,566.1 1374.6,564.2 1373.2,558.3C1371.8,552.3 1370.4,540.3 1370.4,533.4Z" fill="#c65b6b"/>
<path d="M1475.5,516.8C1476.4,514.5 1480.6,511.7 1483.8,511.2C1487.0,510.8 1491.2,514.0 1494.8,514.0C1498.5,514.0 1502.7,512.2 1505.9,511.2C1509.1,510.3 1511.0,508.9 1514.2,508.5C1517.4,508.0 1522.3,507.6 1525.3,508.5C1528.3,509.4 1530.8,511.7 1532.2,514.0C1533.6,516.3 1531.9,520.0 1533.6,522.3C1535.2,524.6 1539.5,526.5 1541.9,527.8C1544.2,529.2 1547.8,529.2 1547.4,530.6C1546.9,532.0 1542.3,535.7 1539.1,536.1C1535.9,536.6 1531.7,534.3 1528.0,533.4C1524.3,532.4 1520.7,531.1 1517.0,530.6C1513.3,530.1 1509.1,530.1 1505.9,530.6C1502.7,531.1 1500.8,533.4 1497.6,533.4C1494.4,533.4 1489.8,532.0 1486.6,530.6C1483.3,529.2 1480.1,527.4 1478.3,525.1C1476.4,522.8 1474.6,519.1 1475.5,516.8Z" fill="#57bde7"/>
<path d="M1420.2,599.7C1421.6,597.9 1427.6,597.9 1431.2,597.0C1434.9,596.0 1439.5,593.7 1442.3,594.2C1445.1,594.7 1446.7,597.0 1447.8,599.7C1449.0,602.5 1449.7,607.8 1449.2,610.8C1448.8,613.8 1447.1,616.3 1445.1,617.7C1443.0,619.1 1439.5,619.8 1436.8,619.1C1434.0,618.4 1430.8,615.4 1428.5,613.6C1426.2,611.7 1424.3,610.3 1423.0,608.0C1421.6,605.7 1418.8,601.6 1420.2,599.7Z" fill="#2b3c9b"/>
<path d="M1508.7,538.9C1510.3,535.7 1515.6,532.0 1519.7,530.6C1523.9,529.2 1529.4,530.6 1533.6,530.6C1537.7,530.6 1540.9,529.7 1544.6,530.6C1548.3,531.5 1552.5,533.4 1555.7,536.1C1558.9,538.9 1562.1,543.5 1564.0,547.2C1565.8,550.9 1567.2,555.0 1566.7,558.3C1566.3,561.5 1563.5,564.2 1561.2,566.6C1558.9,568.9 1556.1,570.7 1552.9,572.1C1549.7,573.5 1545.5,573.9 1541.9,574.8C1538.2,575.8 1534.0,577.2 1530.8,577.6C1527.6,578.1 1525.3,578.5 1522.5,577.6C1519.7,576.7 1516.0,574.8 1514.2,572.1C1512.4,569.3 1512.1,564.7 1511.4,561.0C1510.7,557.3 1510.5,553.6 1510.1,550.0C1509.6,546.3 1507.1,542.1 1508.7,538.9Z" fill="#cbbd6a"/>
<path d="M1500.4,527.8C1501.8,526.2 1506.8,525.1 1508.7,526.5C1510.5,527.8 1511.4,533.1 1511.4,536.1C1511.4,539.1 1510.1,543.0 1508.7,544.4C1507.3,545.8 1504.5,545.8 1503.1,544.4C1501.8,543.0 1500.8,538.9 1500.4,536.1C1499.9,533.4 1499.0,529.5 1500.4,527.8Z" fill="#984a9f"/>
<path d="M1483.8,514.0C1484.9,512.4 1490.0,510.8 1492.1,511.2C1494.2,511.7 1496.2,514.9 1496.2,516.8C1496.2,518.6 1493.9,521.6 1492.1,522.3C1490.2,523.0 1486.6,522.3 1485.2,520.9C1483.8,519.5 1482.6,515.6 1483.8,514.0Z" fill="#22a38f"/>
</g>
<path d="M402.4,193.4 C432,200 444,240 445,290 L446,335 C447,365 455,378 467.4,384.6 C455,391 447,404 446,434 L445,490 C444,540 432,570 402.4,574.8" fill="none" stroke="#111" stroke-width="3.2"/>
<path d="M1543.3,146.9 C1575,160 1590,200 1592,260 L1594,330 C1596,365 1605,378 1625.3,384.5 C1605,391 1596,405 1595,440 L1594,520 C1592,580 1575,612 1543.3,623.4" fill="none" stroke="#111" stroke-width="3.2"/>
<text x="584" y="136" class="st">10x v1</text>
<text x="876" y="136" class="st">10x v1.1</text>
<text x="1166" y="136" class="st">10x v2</text>
<text x="1457" y="136" class="st">10x Multiome</text>
<text x="584" y="419" class="st">mtscATAC-seq</text>
<text x="876" y="419" class="st">Bio-Rad ddSEQ SureCell</text>
<text x="1166" y="419" class="st">s3-ATAC</text>
<text x="1457" y="419" class="st">HyDrop</text>
<rect x="214.0" y="675" width="36" height="12" fill="#22a38f"/>
<text x="266.0" y="687.5" class="lg">Dendritic cell</text>
<rect x="446.5" y="675" width="36" height="12" fill="#984a9f"/>
<text x="498.0" y="687.5" class="lg">CD16+ monocyte</text>
<rect x="720.0" y="675" width="36" height="12" fill="#2b3c9b"/>
<text x="772.0" y="687.5" class="lg">Natural killer cell</text>
<rect x="994.0" y="675" width="36" height="12" fill="#0e7f3f"/>
<text x="1046.0" y="687.5" class="lg">B cell</text>
<rect x="1144.0" y="675" width="36" height="12" fill="#cbbd6a"/>
<text x="1196.0" y="687.5" class="lg">CD14+ monocyte</text>
<rect x="1418.0" y="675" width="36" height="12" fill="#c65b6b"/>
<text x="1470.0" y="687.5" class="lg">Naive T cell</text>
<rect x="1632.0" y="675" width="36" height="12" fill="#57bde7"/>
<text x="1683.5" y="687.5" class="lg">Cytotoxic T cell</text>
<rect x="259.30" y="875.20" width="78.14" height="77.99" fill="#e7e440"/>
<text x="298.07" y="921.29" class="an" fill="#262626">0.997</text>
<rect x="336.84" y="875.20" width="78.14" height="77.99" fill="#e9e53f"/>
<text x="375.61" y="921.29" class="an" fill="#262626">0.997</text>
<rect x="414.39" y="875.20" width="78.14" height="77.99" fill="#b9d254"/>
<text x="453.16" y="921.29" class="an" fill="#262626">0.968</text>
<rect x="491.93" y="875.20" width="78.14" height="77.99" fill="#dee045"/>
<text x="530.70" y="921.29" class="an" fill="#262626">0.984</text>
<rect x="569.47" y="875.20" width="78.14" height="77.99" fill="#bad254"/>
<text x="608.24" y="921.29" class="an" fill="#262626">0.989</text>
<rect x="647.01" y="875.20" width="78.14" height="77.99" fill="#dee045"/>
<text x="685.79" y="921.29" class="an" fill="#262626">0.984</text>
<rect x="724.56" y="875.20" width="77.54" height="77.99" fill="#bfd353"/>
<text x="763.33" y="921.29" class="an" fill="#262626">0.938</text>
<rect x="259.30" y="952.59" width="78.14" height="77.99" fill="#ece63d"/>
<text x="298.07" y="998.68" class="an" fill="#262626">0.999</text>
<rect x="336.84" y="952.59" width="78.14" height="77.99" fill="#ece63d"/>
<text x="375.61" y="998.68" class="an" fill="#262626">0.999</text>
<rect x="414.39" y="952.59" width="78.14" height="77.99" fill="#eae53e"/>
<text x="453.16" y="998.68" class="an" fill="#262626">0.994</text>
<rect x="491.93" y="952.59" width="78.14" height="77.99" fill="#e6e340"/>
<text x="530.70" y="998.68" class="an" fill="#262626">0.992</text>
<rect x="569.47" y="952.59" width="78.14" height="77.99" fill="#e4e242"/>
<text x="608.24" y="998.68" class="an" fill="#262626">0.997</text>
<rect x="647.01" y="952.59" width="78.14" height="77.99" fill="#e6e440"/>
<text x="685.79" y="998.68" class="an" fill="#262626">0.993</text>
<rect x="724.56" y="952.59" width="77.54" height="77.99" fill="#dddf46"/>
<text x="763.33" y="998.68" class="an" fill="#262626">0.971</text>
<rect x="259.30" y="1029.97" width="78.14" height="77.99" fill="#ece63d"/>
<text x="298.07" y="1076.07" class="an" fill="#262626">0.999</text>
<rect x="336.84" y="1029.97" width="78.14" height="77.99" fill="#ece63d"/>
<text x="375.61" y="1076.07" class="an" fill="#262626">0.999</text>
<rect x="414.39" y="1029.97" width="78.14" height="77.99" fill="#ece63d"/>
<text x="453.16" y="1076.07" class="an" fill="#262626">0.995</text>
<rect x="491.93" y="1029.97" width="78.14" height="77.99" fill="#ece63d"/>
<text x="530.70" y="1076.07" class="an" fill="#262626">0.998</text>
<rect x="569.47" y="1029.97" width="78.14" height="77.99" fill="#ece63d"/>
<text x="608.24" y="1076.07" class="an" fill="#262626">0.999</text>
<rect x="647.01" y="1029.97" width="78.14" height="77.99" fill="#ece63d"/>
<text x="685.79" y="1076.07" class="an" fill="#262626">0.999</text>
<rect x="724.56" y="1029.97" width="77.54" height="77.99" fill="#ece63d"/>
<text x="763.33" y="1076.07" class="an" fill="#262626">0.992</text>
<rect x="259.30" y="1107.36" width="78.14" height="77.99" fill="#e5e341"/>
<text x="298.07" y="1153.46" class="an" fill="#262626">0.996</text>
<rect x="336.84" y="1107.36" width="78.14" height="77.99" fill="#e4e341"/>
<text x="375.61" y="1153.46" class="an" fill="#262626">0.994</text>
<rect x="414.39" y="1107.36" width="78.14" height="77.99" fill="#c3d551"/>
<text x="453.16" y="1153.46" class="an" fill="#262626">0.972</text>
<rect x="491.93" y="1107.36" width="78.14" height="77.99" fill="#dfe045"/>
<text x="530.70" y="1153.46" class="an" fill="#262626">0.985</text>
<rect x="569.47" y="1107.36" width="78.14" height="77.99" fill="#ccd94d"/>
<text x="608.24" y="1153.46" class="an" fill="#262626">0.992</text>
<rect x="647.01" y="1107.36" width="78.14" height="77.99" fill="#d8dd48"/>
<text x="685.79" y="1153.46" class="an" fill="#262626">0.977</text>
<rect x="724.56" y="1107.36" width="77.54" height="77.99" fill="#a3ca5a"/>
<text x="763.33" y="1153.46" class="an" fill="#262626">0.912</text>
<rect x="259.30" y="1184.75" width="78.14" height="77.99" fill="#dbde47"/>
<text x="298.07" y="1230.84" class="an" fill="#262626">0.992</text>
<rect x="336.84" y="1184.75" width="78.14" height="77.99" fill="#cfd94d"/>
<text x="375.61" y="1230.84" class="an" fill="#262626">0.981</text>
<rect x="414.39" y="1184.75" width="78.14" height="77.99" fill="#98c75d"/>
<text x="453.16" y="1230.84" class="an" fill="#262626">0.954</text>
<rect x="491.93" y="1184.75" width="78.14" height="77.99" fill="#d0da4c"/>
<text x="530.70" y="1230.84" class="an" fill="#262626">0.972</text>
<rect x="569.47" y="1184.75" width="78.14" height="77.99" fill="#ece63d"/>
<text x="608.24" y="1230.84" class="an" fill="#262626">0.999</text>
<rect x="647.01" y="1184.75" width="78.14" height="77.99" fill="#86c264"/>
<text x="685.79" y="1230.84" class="an" fill="#262626">0.915</text>
<rect x="724.56" y="1184.75" width="77.54" height="77.99" fill="#d9de48"/>
<text x="763.33" y="1230.84" class="an" fill="#262626">0.966</text>
<rect x="259.30" y="1262.14" width="78.14" height="77.99" fill="#6bb871"/>
<text x="298.07" y="1308.23" class="an" fill="#262626">0.955</text>
<rect x="336.84" y="1262.14" width="78.14" height="77.99" fill="#7dbf68"/>
<text x="375.61" y="1308.23" class="an" fill="#262626">0.944</text>
<rect x="414.39" y="1262.14" width="78.14" height="77.99" fill="#1b958a"/>
<text x="453.16" y="1308.23" class="an" fill="#ffffff">0.809</text>
<rect x="491.93" y="1262.14" width="78.14" height="77.99" fill="#6ab772"/>
<text x="530.70" y="1308.23" class="an" fill="#262626">0.891</text>
<rect x="569.47" y="1262.14" width="78.14" height="77.99" fill="#1b988a"/>
<text x="608.24" y="1308.23" class="an" fill="#ffffff">0.932</text>
<rect x="647.01" y="1262.14" width="78.14" height="77.99" fill="#6db871"/>
<text x="685.79" y="1308.23" class="an" fill="#262626">0.884</text>
<rect x="724.56" y="1262.14" width="77.54" height="77.99" fill="#5cb476"/>
<text x="763.33" y="1308.23" class="an" fill="#262626">0.799</text>
<rect x="259.30" y="1339.53" width="78.14" height="77.99" fill="#351a50"/>
<text x="298.07" y="1385.62" class="an" fill="#ffffff">0.745</text>
<rect x="336.84" y="1339.53" width="78.14" height="77.99" fill="#351a50"/>
<text x="375.61" y="1385.62" class="an" fill="#ffffff">0.596</text>
<rect x="414.39" y="1339.53" width="78.14" height="77.99" fill="#3e4b8c"/>
<text x="453.16" y="1385.62" class="an" fill="#ffffff">0.675</text>
<rect x="491.93" y="1339.53" width="78.14" height="77.99" fill="#351a50"/>
<text x="530.70" y="1385.62" class="an" fill="#ffffff">0.393</text>
<rect x="569.47" y="1339.53" width="78.14" height="77.99" fill="#351a50"/>
<text x="608.24" y="1385.62" class="an" fill="#ffffff">0.851</text>
<rect x="647.01" y="1339.53" width="78.14" height="77.99" fill="#351a50"/>
<text x="685.79" y="1385.62" class="an" fill="#ffffff">0.318</text>
<rect x="724.56" y="1339.53" width="77.54" height="77.99" fill="#351a50"/>
<text x="763.33" y="1385.62" class="an" fill="#ffffff">0.129</text>
<rect x="259.30" y="1416.91" width="78.14" height="77.39" fill="#2cad7d"/>
<text x="298.07" y="1463.01" class="an" fill="#ffffff">0.916</text>
<rect x="336.84" y="1416.91" width="78.14" height="77.39" fill="#59b376"/>
<text x="375.61" y="1463.01" class="an" fill="#262626">0.904</text>
<rect x="414.39" y="1416.91" width="78.14" height="77.39" fill="#351a50"/>
<text x="453.16" y="1463.01" class="an" fill="#ffffff">0.600</text>
<rect x="491.93" y="1416.91" width="78.14" height="77.39" fill="#207e8c"/>
<text x="530.70" y="1463.01" class="an" fill="#ffffff">0.655</text>
<rect x="569.47" y="1416.91" width="78.14" height="77.39" fill="#1f838b"/>
<text x="608.24" y="1463.01" class="an" fill="#ffffff">0.918</text>
<rect x="647.01" y="1416.91" width="78.14" height="77.39" fill="#23798e"/>
<text x="685.79" y="1463.01" class="an" fill="#ffffff">0.597</text>
<rect x="724.56" y="1416.91" width="77.54" height="77.39" fill="#1d898b"/>
<text x="763.33" y="1463.01" class="an" fill="#ffffff">0.542</text>
<line x1="298.07" y1="1494.30" x2="298.07" y2="1503.10" class="tk"/>
<text x="294.27" y="1523.20" class="xl" transform="rotate(-45 294.27 1523.20)">B cells</text>
<line x1="375.61" y1="1494.30" x2="375.61" y2="1503.10" class="tk"/>
<text x="371.81" y="1523.20" class="xl" transform="rotate(-45 371.81 1523.20)">Naive T cells</text>
<line x1="453.16" y1="1494.30" x2="453.16" y2="1503.10" class="tk"/>
<text x="449.36" y="1523.20" class="xl" transform="rotate(-45 449.36 1523.20)">Cytotoxic T cells</text>
<line x1="530.70" y1="1494.30" x2="530.70" y2="1503.10" class="tk"/>
<text x="526.90" y="1523.20" class="xl" transform="rotate(-45 526.90 1523.20)">NK cells</text>
<line x1="608.24" y1="1494.30" x2="608.24" y2="1503.10" class="tk"/>
<text x="604.44" y="1523.20" class="xl" transform="rotate(-45 604.44 1523.20)">CD14+ monocytes</text>
<line x1="685.79" y1="1494.30" x2="685.79" y2="1503.10" class="tk"/>
<text x="681.99" y="1523.20" class="xl" transform="rotate(-45 681.99 1523.20)">CD16+ monocytes</text>
<line x1="763.33" y1="1494.30" x2="763.33" y2="1503.10" class="tk"/>
<text x="759.53" y="1523.20" class="xl" transform="rotate(-45 759.53 1523.20)">Dendritic cells</text>
<rect x="847.60" y="875.20" width="78.14" height="77.99" fill="#296e92"/>
<text x="886.37" y="921.29" class="an" fill="#ffffff">0.078</text>
<rect x="925.14" y="875.20" width="78.14" height="77.99" fill="#3d4e8d"/>
<text x="963.91" y="921.29" class="an" fill="#ffffff">0.040</text>
<rect x="1002.69" y="875.20" width="78.14" height="77.99" fill="#351a50"/>
<text x="1041.46" y="921.29" class="an" fill="#ffffff">0.005</text>
<rect x="1080.23" y="875.20" width="78.14" height="77.99" fill="#3e4a8b"/>
<text x="1119.00" y="921.29" class="an" fill="#ffffff">0.044</text>
<rect x="1157.77" y="875.20" width="78.14" height="77.99" fill="#423f82"/>
<text x="1196.54" y="921.29" class="an" fill="#ffffff">0.020</text>
<rect x="1235.31" y="875.20" width="78.14" height="77.99" fill="#2c6a94"/>
<text x="1274.09" y="921.29" class="an" fill="#ffffff">0.107</text>
<rect x="1312.86" y="875.20" width="77.54" height="77.99" fill="#2c6994"/>
<text x="1351.63" y="921.29" class="an" fill="#ffffff">0.056</text>
<rect x="847.60" y="952.59" width="78.14" height="77.99" fill="#ece63d"/>
<text x="886.37" y="998.68" class="an" fill="#262626">0.195</text>
<rect x="925.14" y="952.59" width="78.14" height="77.99" fill="#3aaf7b"/>
<text x="963.91" y="998.68" class="an" fill="#ffffff">0.132</text>
<rect x="1002.69" y="952.59" width="78.14" height="77.99" fill="#316194"/>
<text x="1041.46" y="998.68" class="an" fill="#ffffff">0.019</text>
<rect x="1080.23" y="952.59" width="78.14" height="77.99" fill="#1b988a"/>
<text x="1119.00" y="998.68" class="an" fill="#ffffff">0.124</text>
<rect x="1157.77" y="952.59" width="78.14" height="77.99" fill="#43b079"/>
<text x="1196.54" y="998.68" class="an" fill="#ffffff">0.090</text>
<rect x="1235.31" y="952.59" width="78.14" height="77.99" fill="#1ca484"/>
<text x="1274.09" y="998.68" class="an" fill="#ffffff">0.198</text>
<rect x="1312.86" y="952.59" width="77.54" height="77.99" fill="#29ad7e"/>
<text x="1351.63" y="998.68" class="an" fill="#ffffff">0.115</text>
<rect x="847.60" y="1029.97" width="78.14" height="77.99" fill="#1da782"/>
<text x="886.37" y="1076.07" class="an" fill="#ffffff">0.127</text>
<rect x="925.14" y="1029.97" width="78.14" height="77.99" fill="#ece63d"/>
<text x="963.91" y="1076.07" class="an" fill="#262626">0.190</text>
<rect x="1002.69" y="1029.97" width="78.14" height="77.99" fill="#ece63d"/>
<text x="1041.46" y="1076.07" class="an" fill="#262626">0.057</text>
<rect x="1080.23" y="1029.97" width="78.14" height="77.99" fill="#ece63d"/>
<text x="1119.00" y="1076.07" class="an" fill="#262626">0.226</text>
<rect x="1157.77" y="1029.97" width="78.14" height="77.99" fill="#ece63d"/>
<text x="1196.54" y="1076.07" class="an" fill="#262626">0.126</text>
<rect x="1235.31" y="1029.97" width="78.14" height="77.99" fill="#ece63d"/>
<text x="1274.09" y="1076.07" class="an" fill="#262626">0.322</text>
<rect x="1312.86" y="1029.97" width="77.54" height="77.99" fill="#ece63d"/>
<text x="1351.63" y="1076.07" class="an" fill="#262626">0.171</text>
<rect x="847.60" y="1107.36" width="78.14" height="77.99" fill="#8ec461"/>
<text x="886.37" y="1153.46" class="an" fill="#262626">0.174</text>
<rect x="925.14" y="1107.36" width="78.14" height="77.99" fill="#1d8a8b"/>
<text x="963.91" y="1153.46" class="an" fill="#ffffff">0.092</text>
<rect x="1002.69" y="1107.36" width="78.14" height="77.99" fill="#217c8d"/>
<text x="1041.46" y="1153.46" class="an" fill="#ffffff">0.027</text>
<rect x="1080.23" y="1107.36" width="78.14" height="77.99" fill="#1f828b"/>
<text x="1119.00" y="1153.46" class="an" fill="#ffffff">0.103</text>
<rect x="1157.77" y="1107.36" width="78.14" height="77.99" fill="#43b079"/>
<text x="1196.54" y="1153.46" class="an" fill="#ffffff">0.090</text>
<rect x="1235.31" y="1107.36" width="78.14" height="77.99" fill="#2d6794"/>
<text x="1274.09" y="1153.46" class="an" fill="#ffffff">0.100</text>
<rect x="1312.86" y="1107.36" width="77.54" height="77.99" fill="#2d6794"/>
<text x="1351.63" y="1153.46" class="an" fill="#ffffff">0.053</text>
<rect x="847.60" y="1184.75" width="78.14" height="77.99" fill="#1f828b"/>
<text x="886.37" y="1230.84" class="an" fill="#ffffff">0.095</text>
<rect x="925.14" y="1184.75" width="78.14" height="77.99" fill="#413f83"/>
<text x="963.91" y="1230.84" class="an" fill="#ffffff">0.026</text>
<rect x="1002.69" y="1184.75" width="78.14" height="77.99" fill="#1ea882"/>
<text x="1041.46" y="1230.84" class="an" fill="#ffffff">0.038</text>
<rect x="1080.23" y="1184.75" width="78.14" height="77.99" fill="#2f6595"/>
<text x="1119.00" y="1230.84" class="an" fill="#ffffff">0.067</text>
<rect x="1157.77" y="1184.75" width="78.14" height="77.99" fill="#53b277"/>
<text x="1196.54" y="1230.84" class="an" fill="#262626">0.094</text>
<rect x="1235.31" y="1184.75" width="78.14" height="77.99" fill="#413f83"/>
<text x="1274.09" y="1230.84" class="an" fill="#ffffff">0.044</text>
<rect x="1312.86" y="1184.75" width="77.54" height="77.99" fill="#7dbf68"/>
<text x="1351.63" y="1230.84" class="an" fill="#262626">0.148</text>
<rect x="847.60" y="1262.14" width="78.14" height="77.99" fill="#2aad7e"/>
<text x="886.37" y="1308.23" class="an" fill="#ffffff">0.135</text>
<rect x="925.14" y="1262.14" width="78.14" height="77.99" fill="#375790"/>
<text x="963.91" y="1308.23" class="an" fill="#ffffff">0.046</text>
<rect x="1002.69" y="1262.14" width="78.14" height="77.99" fill="#3d2d6a"/>
<text x="1041.46" y="1308.23" class="an" fill="#ffffff">0.008</text>
<rect x="1080.23" y="1262.14" width="78.14" height="77.99" fill="#404386"/>
<text x="1119.00" y="1308.23" class="an" fill="#ffffff">0.036</text>
<rect x="1157.77" y="1262.14" width="78.14" height="77.99" fill="#accd58"/>
<text x="1196.54" y="1308.23" class="an" fill="#262626">0.116</text>
<rect x="1235.31" y="1262.14" width="78.14" height="77.99" fill="#2c6a94"/>
<text x="1274.09" y="1308.23" class="an" fill="#ffffff">0.107</text>
<rect x="1312.86" y="1262.14" width="77.54" height="77.99" fill="#277291"/>
<text x="1351.63" y="1308.23" class="an" fill="#ffffff">0.065</text>
<rect x="847.60" y="1339.53" width="78.14" height="77.99" fill="#3e306e"/>
<text x="886.37" y="1385.62" class="an" fill="#ffffff">0.025</text>
<rect x="925.14" y="1339.53" width="78.14" height="77.99" fill="#39235c"/>
<text x="963.91" y="1385.62" class="an" fill="#ffffff">0.007</text>
<rect x="1002.69" y="1339.53" width="78.14" height="77.99" fill="#21ab80"/>
<text x="1041.46" y="1385.62" class="an" fill="#ffffff">0.039</text>
<rect x="1080.23" y="1339.53" width="78.14" height="77.99" fill="#39235c"/>
<text x="1119.00" y="1385.62" class="an" fill="#ffffff">0.009</text>
<rect x="1157.77" y="1339.53" width="78.14" height="77.99" fill="#52b277"/>
<text x="1196.54" y="1385.62" class="an" fill="#262626">0.093</text>
<rect x="1235.31" y="1339.53" width="78.14" height="77.99" fill="#361d54"/>
<text x="1274.09" y="1385.62" class="an" fill="#ffffff">0.007</text>
<rect x="1312.86" y="1339.53" width="77.54" height="77.99" fill="#371e55"/>
<text x="1351.63" y="1385.62" class="an" fill="#ffffff">0.004</text>
<rect x="847.60" y="1416.91" width="78.14" height="77.39" fill="#351a50"/>
<text x="886.37" y="1463.01" class="an" fill="#ffffff">0.013</text>
<rect x="925.14" y="1416.91" width="78.14" height="77.39" fill="#351a50"/>
<text x="963.91" y="1463.01" class="an" fill="#ffffff">0.002</text>
<rect x="1002.69" y="1416.91" width="78.14" height="77.39" fill="#414184"/>
<text x="1041.46" y="1463.01" class="an" fill="#ffffff">0.012</text>
<rect x="1080.23" y="1416.91" width="78.14" height="77.39" fill="#351a50"/>
<text x="1119.00" y="1463.01" class="an" fill="#ffffff">0.003</text>
<rect x="1157.77" y="1416.91" width="78.14" height="77.39" fill="#351a50"/>
<text x="1196.54" y="1463.01" class="an" fill="#ffffff">0.005</text>
<rect x="1235.31" y="1416.91" width="78.14" height="77.39" fill="#351a50"/>
<text x="1274.09" y="1463.01" class="an" fill="#ffffff">0.004</text>
<rect x="1312.86" y="1416.91" width="77.54" height="77.39" fill="#351a50"/>
<text x="1351.63" y="1463.01" class="an" fill="#ffffff">0.002</text>
<line x1="886.37" y1="1494.30" x2="886.37" y2="1503.10" class="tk"/>
<text x="882.57" y="1523.20" class="xl" transform="rotate(-45 882.57 1523.20)">B cells</text>
<line x1="963.91" y1="1494.30" x2="963.91" y2="1503.10" class="tk"/>
<text x="960.11" y="1523.20" class="xl" transform="rotate(-45 960.11 1523.20)">Naive T cells</text>
<line x1="1041.46" y1="1494.30" x2="1041.46" y2="1503.10" class="tk"/>
<text x="1037.66" y="1523.20" class="xl" transform="rotate(-45 1037.66 1523.20)">Cytotoxic T cells</text>
<line x1="1119.00" y1="1494.30" x2="1119.00" y2="1503.10" class="tk"/>
<text x="1115.20" y="1523.20" class="xl" transform="rotate(-45 1115.20 1523.20)">NK cells</text>
<line x1="1196.54" y1="1494.30" x2="1196.54" y2="1503.10" class="tk"/>
<text x="1192.74" y="1523.20" class="xl" transform="rotate(-45 1192.74 1523.20)">CD14+ monocytes</text>
<line x1="1274.09" y1="1494.30" x2="1274.09" y2="1503.10" class="tk"/>
<text x="1270.29" y="1523.20" class="xl" transform="rotate(-45 1270.29 1523.20)">CD16+ monocytes</text>
<line x1="1351.63" y1="1494.30" x2="1351.63" y2="1503.10" class="tk"/>
<text x="1347.83" y="1523.20" class="xl" transform="rotate(-45 1347.83 1523.20)">Dendritic cells</text>
<rect x="259.30" y="1733.60" width="78.14" height="78.06" fill="#64b574"/>
<text x="298.07" y="1779.73" class="an" fill="#262626">0.87</text>
<rect x="336.84" y="1733.60" width="78.14" height="78.06" fill="#6eb970"/>
<text x="375.61" y="1779.73" class="an" fill="#262626">0.83</text>
<rect x="414.39" y="1733.60" width="78.14" height="78.06" fill="#e2e242"/>
<text x="453.16" y="1779.73" class="an" fill="#262626">0.96</text>
<rect x="491.93" y="1733.60" width="78.14" height="78.06" fill="#ece63d"/>
<text x="530.70" y="1779.73" class="an" fill="#262626">0.94</text>
<rect x="569.47" y="1733.60" width="78.14" height="78.06" fill="#1b968a"/>
<text x="608.24" y="1779.73" class="an" fill="#ffffff">0.78</text>
<rect x="647.01" y="1733.60" width="78.14" height="78.06" fill="#1fa981"/>
<text x="685.79" y="1779.73" class="an" fill="#ffffff">0.72</text>
<rect x="724.56" y="1733.60" width="77.54" height="78.06" fill="#1c948a"/>
<text x="763.33" y="1779.73" class="an" fill="#ffffff">0.7</text>
<rect x="259.30" y="1811.06" width="78.14" height="78.06" fill="#ece63d"/>
<text x="298.07" y="1857.19" class="an" fill="#262626">0.96</text>
<rect x="336.84" y="1811.06" width="78.14" height="78.06" fill="#bbd254"/>
<text x="375.61" y="1857.19" class="an" fill="#262626">0.89</text>
<rect x="414.39" y="1811.06" width="78.14" height="78.06" fill="#ece63d"/>
<text x="453.16" y="1857.19" class="an" fill="#262626">0.97</text>
<rect x="491.93" y="1811.06" width="78.14" height="78.06" fill="#accd58"/>
<text x="530.70" y="1857.19" class="an" fill="#262626">0.88</text>
<rect x="569.47" y="1811.06" width="78.14" height="78.06" fill="#7bbe69"/>
<text x="608.24" y="1857.19" class="an" fill="#262626">0.92</text>
<rect x="647.01" y="1811.06" width="78.14" height="78.06" fill="#dbde47"/>
<text x="685.79" y="1857.19" class="an" fill="#262626">0.96</text>
<rect x="724.56" y="1811.06" width="77.54" height="78.06" fill="#dee045"/>
<text x="763.33" y="1857.19" class="an" fill="#262626">0.9</text>
<rect x="259.30" y="1888.53" width="78.14" height="78.06" fill="#dee045"/>
<text x="298.07" y="1934.66" class="an" fill="#262626">0.95</text>
<rect x="336.84" y="1888.53" width="78.14" height="78.06" fill="#ece63d"/>
<text x="375.61" y="1934.66" class="an" fill="#262626">0.93</text>
<rect x="414.39" y="1888.53" width="78.14" height="78.06" fill="#b2cf57"/>
<text x="453.16" y="1934.66" class="an" fill="#262626">0.92</text>
<rect x="491.93" y="1888.53" width="78.14" height="78.06" fill="#56b377"/>
<text x="530.70" y="1934.66" class="an" fill="#262626">0.76</text>
<rect x="569.47" y="1888.53" width="78.14" height="78.06" fill="#8dc461"/>
<text x="608.24" y="1934.66" class="an" fill="#262626">0.93</text>
<rect x="647.01" y="1888.53" width="78.14" height="78.06" fill="#b9d155"/>
<text x="685.79" y="1934.66" class="an" fill="#262626">0.93</text>
<rect x="724.56" y="1888.53" width="77.54" height="78.06" fill="#7dbf68"/>
<text x="763.33" y="1934.66" class="an" fill="#262626">0.85</text>
<rect x="259.30" y="1965.99" width="78.14" height="78.06" fill="#1ca086"/>
<text x="298.07" y="2012.12" class="an" fill="#ffffff">0.77</text>
<rect x="336.84" y="1965.99" width="78.14" height="78.06" fill="#56b377"/>
<text x="375.61" y="2012.12" class="an" fill="#262626">0.78</text>
<rect x="414.39" y="1965.99" width="78.14" height="78.06" fill="#6cb871"/>
<text x="453.16" y="2012.12" class="an" fill="#262626">0.86</text>
<rect x="491.93" y="1965.99" width="78.14" height="78.06" fill="#27ad7e"/>
<text x="530.70" y="2012.12" class="an" fill="#ffffff">0.7</text>
<rect x="569.47" y="1965.99" width="78.14" height="78.06" fill="#5fb476"/>
<text x="608.24" y="2012.12" class="an" fill="#262626">0.89</text>
<rect x="647.01" y="1965.99" width="78.14" height="78.06" fill="#53b277"/>
<text x="685.79" y="2012.12" class="an" fill="#262626">0.79</text>
<rect x="724.56" y="1965.99" width="77.54" height="78.06" fill="#1c948a"/>
<text x="763.33" y="2012.12" class="an" fill="#ffffff">0.7</text>
<rect x="259.30" y="2043.45" width="78.14" height="78.06" fill="#d0da4c"/>
<text x="298.07" y="2089.58" class="an" fill="#262626">0.94</text>
<rect x="336.84" y="2043.45" width="78.14" height="78.06" fill="#e2e143"/>
<text x="375.61" y="2089.58" class="an" fill="#262626">0.92</text>
<rect x="414.39" y="2043.45" width="78.14" height="78.06" fill="#6cb871"/>
<text x="453.16" y="2089.58" class="an" fill="#262626">0.86</text>
<rect x="491.93" y="2043.45" width="78.14" height="78.06" fill="#56b377"/>
<text x="530.70" y="2089.58" class="an" fill="#262626">0.76</text>
<rect x="569.47" y="2043.45" width="78.14" height="78.06" fill="#ece63d"/>
<text x="608.24" y="2089.58" class="an" fill="#262626">0.98</text>
<rect x="647.01" y="2043.45" width="78.14" height="78.06" fill="#ece63d"/>
<text x="685.79" y="2089.58" class="an" fill="#262626">0.98</text>
<rect x="724.56" y="2043.45" width="77.54" height="78.06" fill="#ece63d"/>
<text x="763.33" y="2089.58" class="an" fill="#262626">0.91</text>
<rect x="259.30" y="2120.91" width="78.14" height="78.06" fill="#351a50"/>
<text x="298.07" y="2167.04" class="an" fill="#ffffff">0.5</text>
<rect x="336.84" y="2120.91" width="78.14" height="78.06" fill="#351a50"/>
<text x="375.61" y="2167.04" class="an" fill="#ffffff">0.33</text>
<rect x="414.39" y="2120.91" width="78.14" height="78.06" fill="#355a92"/>
<text x="453.16" y="2167.04" class="an" fill="#ffffff">0.48</text>
<rect x="491.93" y="2120.91" width="78.14" height="78.06" fill="#1c8f8a"/>
<text x="530.70" y="2167.04" class="an" fill="#ffffff">0.58</text>
<rect x="569.47" y="2120.91" width="78.14" height="78.06" fill="#351a50"/>
<text x="608.24" y="2167.04" class="an" fill="#ffffff">0.55</text>
<rect x="647.01" y="2120.91" width="78.14" height="78.06" fill="#351a50"/>
<text x="685.79" y="2167.04" class="an" fill="#ffffff">0.26</text>
<rect x="724.56" y="2120.91" width="77.54" height="78.06" fill="#351a50"/>
<text x="763.33" y="2167.04" class="an" fill="#ffffff">0.47</text>
<rect x="259.30" y="2198.38" width="78.14" height="78.06" fill="#1ca086"/>
<text x="298.07" y="2244.51" class="an" fill="#ffffff">0.77</text>
<rect x="336.84" y="2198.38" width="78.14" height="78.06" fill="#2c6994"/>
<text x="375.61" y="2244.51" class="an" fill="#ffffff">0.52</text>
<rect x="414.39" y="2198.38" width="78.14" height="78.06" fill="#3f4789"/>
<text x="453.16" y="2244.51" class="an" fill="#ffffff">0.43</text>
<rect x="491.93" y="2198.38" width="78.14" height="78.06" fill="#3b2862"/>
<text x="530.70" y="2244.51" class="an" fill="#ffffff">0.25</text>
<rect x="569.47" y="2198.38" width="78.14" height="78.06" fill="#5fb476"/>
<text x="608.24" y="2244.51" class="an" fill="#262626">0.89</text>
<rect x="647.01" y="2198.38" width="78.14" height="78.06" fill="#75bb6c"/>
<text x="685.79" y="2244.51" class="an" fill="#262626">0.87</text>
<rect x="724.56" y="2198.38" width="77.54" height="78.06" fill="#1ea881"/>
<text x="763.33" y="2244.51" class="an" fill="#ffffff">0.75</text>
<rect x="259.30" y="2275.84" width="78.14" height="77.46" fill="#2f6495"/>
<text x="298.07" y="2321.97" class="an" fill="#ffffff">0.63</text>
<rect x="336.84" y="2275.84" width="78.14" height="77.46" fill="#316094"/>
<text x="375.61" y="2321.97" class="an" fill="#ffffff">0.49</text>
<rect x="414.39" y="2275.84" width="78.14" height="77.46" fill="#351a50"/>
<text x="453.16" y="2321.97" class="an" fill="#ffffff">0.32</text>
<rect x="491.93" y="2275.84" width="78.14" height="77.46" fill="#351a50"/>
<text x="530.70" y="2321.97" class="an" fill="#ffffff">0.22</text>
<rect x="569.47" y="2275.84" width="78.14" height="77.46" fill="#7bbe69"/>
<text x="608.24" y="2321.97" class="an" fill="#262626">0.92</text>
<rect x="647.01" y="2275.84" width="78.14" height="77.46" fill="#47b179"/>
<text x="685.79" y="2321.97" class="an" fill="#ffffff">0.77</text>
<rect x="724.56" y="2275.84" width="77.54" height="77.46" fill="#1c948a"/>
<text x="763.33" y="2321.97" class="an" fill="#ffffff">0.7</text>
<line x1="298.07" y1="2353.30" x2="298.07" y2="2362.10" class="tk"/>
<text x="294.27" y="2382.20" class="xl" transform="rotate(-45 294.27 2382.20)">B cells</text>
<line x1="375.61" y1="2353.30" x2="375.61" y2="2362.10" class="tk"/>
<text x="371.81" y="2382.20" class="xl" transform="rotate(-45 371.81 2382.20)">Naive T cells</text>
<line x1="453.16" y1="2353.30" x2="453.16" y2="2362.10" class="tk"/>
<text x="449.36" y="2382.20" class="xl" transform="rotate(-45 449.36 2382.20)">Cytotoxic T cells</text>
<line x1="530.70" y1="2353.30" x2="530.70" y2="2362.10" class="tk"/>
<text x="526.90" y="2382.20" class="xl" transform="rotate(-45 526.90 2382.20)">NK cells</text>
<line x1="608.24" y1="2353.30" x2="608.24" y2="2362.10" class="tk"/>
<text x="604.44" y="2382.20" class="xl" transform="rotate(-45 604.44 2382.20)">CD14+ monocytes</text>
<line x1="685.79" y1="2353.30" x2="685.79" y2="2362.10" class="tk"/>
<text x="681.99" y="2382.20" class="xl" transform="rotate(-45 681.99 2382.20)">CD16+ monocytes</text>
<line x1="763.33" y1="2353.30" x2="763.33" y2="2362.10" class="tk"/>
<text x="759.53" y="2382.20" class="xl" transform="rotate(-45 759.53 2382.20)">Dendritic cells</text>
<rect x="847.60" y="1733.60" width="78.14" height="78.06" fill="#1ca583"/>
<text x="886.37" y="1779.73" class="an" fill="#ffffff">0.55</text>
<rect x="925.14" y="1733.60" width="78.14" height="78.06" fill="#56b377"/>
<text x="963.91" y="1779.73" class="an" fill="#262626">0.51</text>
<rect x="1002.69" y="1733.60" width="78.14" height="78.06" fill="#afce57"/>
<text x="1041.46" y="1779.73" class="an" fill="#262626">0.62</text>
<rect x="1080.23" y="1733.60" width="78.14" height="78.06" fill="#22ac7f"/>
<text x="1119.00" y="1779.73" class="an" fill="#ffffff">0.44</text>
<rect x="1157.77" y="1733.60" width="78.14" height="78.06" fill="#60b476"/>
<text x="1196.54" y="1779.73" class="an" fill="#262626">0.74</text>
<rect x="1235.31" y="1733.60" width="78.14" height="78.06" fill="#54b377"/>
<text x="1274.09" y="1779.73" class="an" fill="#262626">0.73</text>
<rect x="1312.86" y="1733.60" width="77.54" height="78.06" fill="#20aa80"/>
<text x="1351.63" y="1779.73" class="an" fill="#ffffff">0.69</text>
<rect x="847.60" y="1811.06" width="78.14" height="78.06" fill="#51b277"/>
<text x="886.37" y="1857.19" class="an" fill="#262626">0.6</text>
<rect x="925.14" y="1811.06" width="78.14" height="78.06" fill="#1c8f8a"/>
<text x="963.91" y="1857.19" class="an" fill="#ffffff">0.42</text>
<rect x="1002.69" y="1811.06" width="78.14" height="78.06" fill="#d3db4b"/>
<text x="1041.46" y="1857.19" class="an" fill="#262626">0.64</text>
<rect x="1080.23" y="1811.06" width="78.14" height="78.06" fill="#1ea882"/>
<text x="1119.00" y="1857.19" class="an" fill="#ffffff">0.43</text>
<rect x="1157.77" y="1811.06" width="78.14" height="78.06" fill="#6bb871"/>
<text x="1196.54" y="1857.19" class="an" fill="#262626">0.75</text>
<rect x="1235.31" y="1811.06" width="78.14" height="78.06" fill="#6bb871"/>
<text x="1274.09" y="1857.19" class="an" fill="#262626">0.75</text>
<rect x="1312.86" y="1811.06" width="77.54" height="78.06" fill="#8cc362"/>
<text x="1351.63" y="1857.19" class="an" fill="#262626">0.77</text>
<rect x="847.60" y="1888.53" width="78.14" height="78.06" fill="#ece63d"/>
<text x="886.37" y="1934.66" class="an" fill="#262626">0.73</text>
<rect x="925.14" y="1888.53" width="78.14" height="78.06" fill="#56b377"/>
<text x="963.91" y="1934.66" class="an" fill="#262626">0.51</text>
<rect x="1002.69" y="1888.53" width="78.14" height="78.06" fill="#ece63d"/>
<text x="1041.46" y="1934.66" class="an" fill="#262626">0.66</text>
<rect x="1080.23" y="1888.53" width="78.14" height="78.06" fill="#49b178"/>
<text x="1119.00" y="1934.66" class="an" fill="#262626">0.46</text>
<rect x="1157.77" y="1888.53" width="78.14" height="78.06" fill="#ece63d"/>
<text x="1196.54" y="1934.66" class="an" fill="#262626">0.8</text>
<rect x="1235.31" y="1888.53" width="78.14" height="78.06" fill="#ece63d"/>
<text x="1274.09" y="1934.66" class="an" fill="#262626">0.79</text>
<rect x="1312.86" y="1888.53" width="77.54" height="78.06" fill="#ece63d"/>
<text x="1351.63" y="1934.66" class="an" fill="#262626">0.81</text>
<rect x="847.60" y="1965.99" width="78.14" height="78.06" fill="#1b958a"/>
<text x="886.37" y="2012.12" class="an" fill="#ffffff">0.51</text>
<rect x="925.14" y="1965.99" width="78.14" height="78.06" fill="#1fa981"/>
<text x="963.91" y="2012.12" class="an" fill="#ffffff">0.47</text>
<rect x="1002.69" y="1965.99" width="78.14" height="78.06" fill="#1ca683"/>
<text x="1041.46" y="2012.12" class="an" fill="#ffffff">0.47</text>
<rect x="1080.23" y="1965.99" width="78.14" height="78.06" fill="#1b998a"/>
<text x="1119.00" y="2012.12" class="an" fill="#ffffff">0.4</text>
<rect x="1157.77" y="1965.99" width="78.14" height="78.06" fill="#60b476"/>
<text x="1196.54" y="2012.12" class="an" fill="#262626">0.74</text>
<rect x="1235.31" y="1965.99" width="78.14" height="78.06" fill="#80c066"/>
<text x="1274.09" y="2012.12" class="an" fill="#262626">0.76</text>
<rect x="1312.86" y="1965.99" width="77.54" height="78.06" fill="#77bd6b"/>
<text x="1351.63" y="2012.12" class="an" fill="#262626">0.76</text>
<rect x="847.60" y="2043.45" width="78.14" height="78.06" fill="#217c8c"/>
<text x="886.37" y="2089.58" class="an" fill="#ffffff">0.46</text>
<rect x="925.14" y="2043.45" width="78.14" height="78.06" fill="#ece63d"/>
<text x="963.91" y="2089.58" class="an" fill="#262626">0.6</text>
<rect x="1002.69" y="2043.45" width="78.14" height="78.06" fill="#1c8f8a"/>
<text x="1041.46" y="2089.58" class="an" fill="#ffffff">0.41</text>
<rect x="1080.23" y="2043.45" width="78.14" height="78.06" fill="#ece63d"/>
<text x="1119.00" y="2089.58" class="an" fill="#262626">0.57</text>
<rect x="1157.77" y="2043.45" width="78.14" height="78.06" fill="#21ab7f"/>
<text x="1196.54" y="2089.58" class="an" fill="#ffffff">0.7</text>
<rect x="1235.31" y="2043.45" width="78.14" height="78.06" fill="#3db07a"/>
<text x="1274.09" y="2089.58" class="an" fill="#ffffff">0.72</text>
<rect x="1312.86" y="2043.45" width="77.54" height="78.06" fill="#53b277"/>
<text x="1351.63" y="2089.58" class="an" fill="#262626">0.72</text>
<rect x="847.60" y="2120.91" width="78.14" height="78.06" fill="#2b6c93"/>
<text x="886.37" y="2167.04" class="an" fill="#ffffff">0.42</text>
<rect x="925.14" y="2120.91" width="78.14" height="78.06" fill="#2f6395"/>
<text x="963.91" y="2167.04" class="an" fill="#ffffff">0.34</text>
<rect x="1002.69" y="2120.91" width="78.14" height="78.06" fill="#2f6495"/>
<text x="1041.46" y="2167.04" class="an" fill="#ffffff">0.3</text>
<rect x="1080.23" y="2120.91" width="78.14" height="78.06" fill="#1ca384"/>
<text x="1119.00" y="2167.04" class="an" fill="#ffffff">0.42</text>
<rect x="1157.77" y="2120.91" width="78.14" height="78.06" fill="#3f316f"/>
<text x="1196.54" y="2167.04" class="an" fill="#ffffff">0.53</text>
<rect x="1235.31" y="2120.91" width="78.14" height="78.06" fill="#2d6794"/>
<text x="1274.09" y="2167.04" class="an" fill="#ffffff">0.63</text>
<rect x="1312.86" y="2120.91" width="77.54" height="78.06" fill="#351a50"/>
<text x="1351.63" y="2167.04" class="an" fill="#ffffff">0.47</text>
<rect x="847.60" y="2198.38" width="78.14" height="78.06" fill="#351a50"/>
<text x="886.37" y="2244.51" class="an" fill="#ffffff">0.26</text>
<rect x="925.14" y="2198.38" width="78.14" height="78.06" fill="#351a50"/>
<text x="963.91" y="2244.51" class="an" fill="#ffffff">0.24</text>
<rect x="1002.69" y="2198.38" width="78.14" height="78.06" fill="#403475"/>
<text x="1041.46" y="2244.51" class="an" fill="#ffffff">0.2</text>
<rect x="1080.23" y="2198.38" width="78.14" height="78.06" fill="#351a50"/>
<text x="1119.00" y="2244.51" class="an" fill="#ffffff">0.19</text>
<rect x="1157.77" y="2198.38" width="78.14" height="78.06" fill="#351a50"/>
<text x="1196.54" y="2244.51" class="an" fill="#ffffff">0.51</text>
<rect x="1235.31" y="2198.38" width="78.14" height="78.06" fill="#351a50"/>
<text x="1274.09" y="2244.51" class="an" fill="#ffffff">0.56</text>
<rect x="1312.86" y="2198.38" width="77.54" height="78.06" fill="#1f808c"/>
<text x="1351.63" y="2244.51" class="an" fill="#ffffff">0.62</text>
<rect x="847.60" y="2275.84" width="78.14" height="77.46" fill="#3b2863"/>
<text x="886.37" y="2321.97" class="an" fill="#ffffff">0.28</text>
<rect x="925.14" y="2275.84" width="78.14" height="77.46" fill="#1b958a"/>
<text x="963.91" y="2321.97" class="an" fill="#ffffff">0.43</text>
<rect x="1002.69" y="2275.84" width="78.14" height="77.46" fill="#351a50"/>
<text x="1041.46" y="2321.97" class="an" fill="#ffffff">0.16</text>
<rect x="1080.23" y="2275.84" width="78.14" height="77.46" fill="#325f93"/>
<text x="1119.00" y="2321.97" class="an" fill="#ffffff">0.29</text>
<rect x="1157.77" y="2275.84" width="78.14" height="77.46" fill="#1d8b8a"/>
<text x="1196.54" y="2321.97" class="an" fill="#ffffff">0.65</text>
<rect x="1235.31" y="2275.84" width="78.14" height="77.46" fill="#25758f"/>
<text x="1274.09" y="2321.97" class="an" fill="#ffffff">0.65</text>
<rect x="1312.86" y="2275.84" width="77.54" height="77.46" fill="#6ab772"/>
<text x="1351.63" y="2321.97" class="an" fill="#262626">0.75</text>
<line x1="886.37" y1="2353.30" x2="886.37" y2="2362.10" class="tk"/>
<text x="882.57" y="2382.20" class="xl" transform="rotate(-45 882.57 2382.20)">B cells</text>
<line x1="963.91" y1="2353.30" x2="963.91" y2="2362.10" class="tk"/>
<text x="960.11" y="2382.20" class="xl" transform="rotate(-45 960.11 2382.20)">Naive T cells</text>
<line x1="1041.46" y1="2353.30" x2="1041.46" y2="2362.10" class="tk"/>
<text x="1037.66" y="2382.20" class="xl" transform="rotate(-45 1037.66 2382.20)">Cytotoxic T cells</text>
<line x1="1119.00" y1="2353.30" x2="1119.00" y2="2362.10" class="tk"/>
<text x="1115.20" y="2382.20" class="xl" transform="rotate(-45 1115.20 2382.20)">NK cells</text>
<line x1="1196.54" y1="2353.30" x2="1196.54" y2="2362.10" class="tk"/>
<text x="1192.74" y="2382.20" class="xl" transform="rotate(-45 1192.74 2382.20)">CD14+ monocytes</text>
<line x1="1274.09" y1="2353.30" x2="1274.09" y2="2362.10" class="tk"/>
<text x="1270.29" y="2382.20" class="xl" transform="rotate(-45 1270.29 2382.20)">CD16+ monocytes</text>
<line x1="1351.63" y1="2353.30" x2="1351.63" y2="2362.10" class="tk"/>
<text x="1347.83" y="2382.20" class="xl" transform="rotate(-45 1347.83 2382.20)">Dendritic cells</text>
<line x1="250.50" y1="913.89" x2="259.30" y2="913.89" class="tk"/>
<text x="242.90" y="920.49" class="yl">10x v1</text>
<line x1="250.50" y1="991.28" x2="259.30" y2="991.28" class="tk"/>
<text x="242.90" y="997.88" class="yl">10x v1.1</text>
<line x1="250.50" y1="1068.67" x2="259.30" y2="1068.67" class="tk"/>
<text x="242.90" y="1075.27" class="yl">10x v2</text>
<line x1="250.50" y1="1146.06" x2="259.30" y2="1146.06" class="tk"/>
<text x="242.90" y="1152.66" class="yl">10x Multiome</text>
<line x1="250.50" y1="1223.44" x2="259.30" y2="1223.44" class="tk"/>
<text x="242.90" y="1230.04" class="yl">mtscATAC-seq</text>
<line x1="250.50" y1="1300.83" x2="259.30" y2="1300.83" class="tk"/>
<text x="242.90" y="1307.43" class="yl">ddSEQ SureCell</text>
<line x1="250.50" y1="1378.22" x2="259.30" y2="1378.22" class="tk"/>
<text x="242.90" y="1384.82" class="yl">s3-ATAC</text>
<line x1="250.50" y1="1455.61" x2="259.30" y2="1455.61" class="tk"/>
<text x="242.90" y="1462.21" class="yl">HyDrop</text>
<text x="0" y="0" class="ax" transform="translate(46 1184.75) rotate(-90)">Technology</text>
<line x1="250.50" y1="1772.33" x2="259.30" y2="1772.33" class="tk"/>
<text x="242.90" y="1778.93" class="yl">10x v1</text>
<line x1="250.50" y1="1849.79" x2="259.30" y2="1849.79" class="tk"/>
<text x="242.90" y="1856.39" class="yl">10x v1.1</text>
<line x1="250.50" y1="1927.26" x2="259.30" y2="1927.26" class="tk"/>
<text x="242.90" y="1933.86" class="yl">10x v2</text>
<line x1="250.50" y1="2004.72" x2="259.30" y2="2004.72" class="tk"/>
<text x="242.90" y="2011.32" class="yl">10x Multiome</text>
<line x1="250.50" y1="2082.18" x2="259.30" y2="2082.18" class="tk"/>
<text x="242.90" y="2088.78" class="yl">mtscATAC-seq</text>
<line x1="250.50" y1="2159.64" x2="259.30" y2="2159.64" class="tk"/>
<text x="242.90" y="2166.24" class="yl">ddSEQ SureCell</text>
<line x1="250.50" y1="2237.11" x2="259.30" y2="2237.11" class="tk"/>
<text x="242.90" y="2243.71" class="yl">s3-ATAC</text>
<line x1="250.50" y1="2314.57" x2="259.30" y2="2314.57" class="tk"/>
<text x="242.90" y="2321.17" class="yl">HyDrop</text>
<text x="0" y="0" class="ax" transform="translate(46 2043.45) rotate(-90)">Technology</text>
<text x="530.7" y="860.5" class="ti">Recovery of top 20% consensus peaks</text>
<text x="1119.0" y="860.5" class="ti">Recovery of bottom 20% consensus peaks</text>
<text x="530.7" y="1719.5" class="ti">Recovery of top 20% consensus DARs</text>
<text x="1119.0" y="1719.5" class="ti">Recovery of bottom 20% consensus DARs</text>
<text x="71.5" y="915.5" class="pl">b</text>
<text x="104" y="1734" class="pl">c</text>
<text x="24" y="27" class="pl" style="font-size:44px">a</text>
<text x="117.0" y="31.2" class="h1" textLength="201.8" lengthAdjust="spacingAndGlyphs">Merged set</text>
<text x="119.7" y="83.5" class="h1" textLength="195.8" lengthAdjust="spacingAndGlyphs">(169k cells)</text>
<text x="832.1" y="31.2" class="h1" textLength="372.4" lengthAdjust="spacingAndGlyphs">Cell-type fair subsets</text>
<text x="609.2" y="83.5" class="h1" textLength="817.3" lengthAdjust="spacingAndGlyphs">(each 4432 cells, equal count for per cell type)</text>
<text x="1621.0" y="31.2" class="h1" textLength="441.5" lengthAdjust="spacingAndGlyphs">Cell-type fair merged set</text>
<text x="1712.5" y="83.5" class="h1" textLength="260.0" lengthAdjust="spacingAndGlyphs">(8 x 4432 cells)</text>
</svg>
</body></html>
